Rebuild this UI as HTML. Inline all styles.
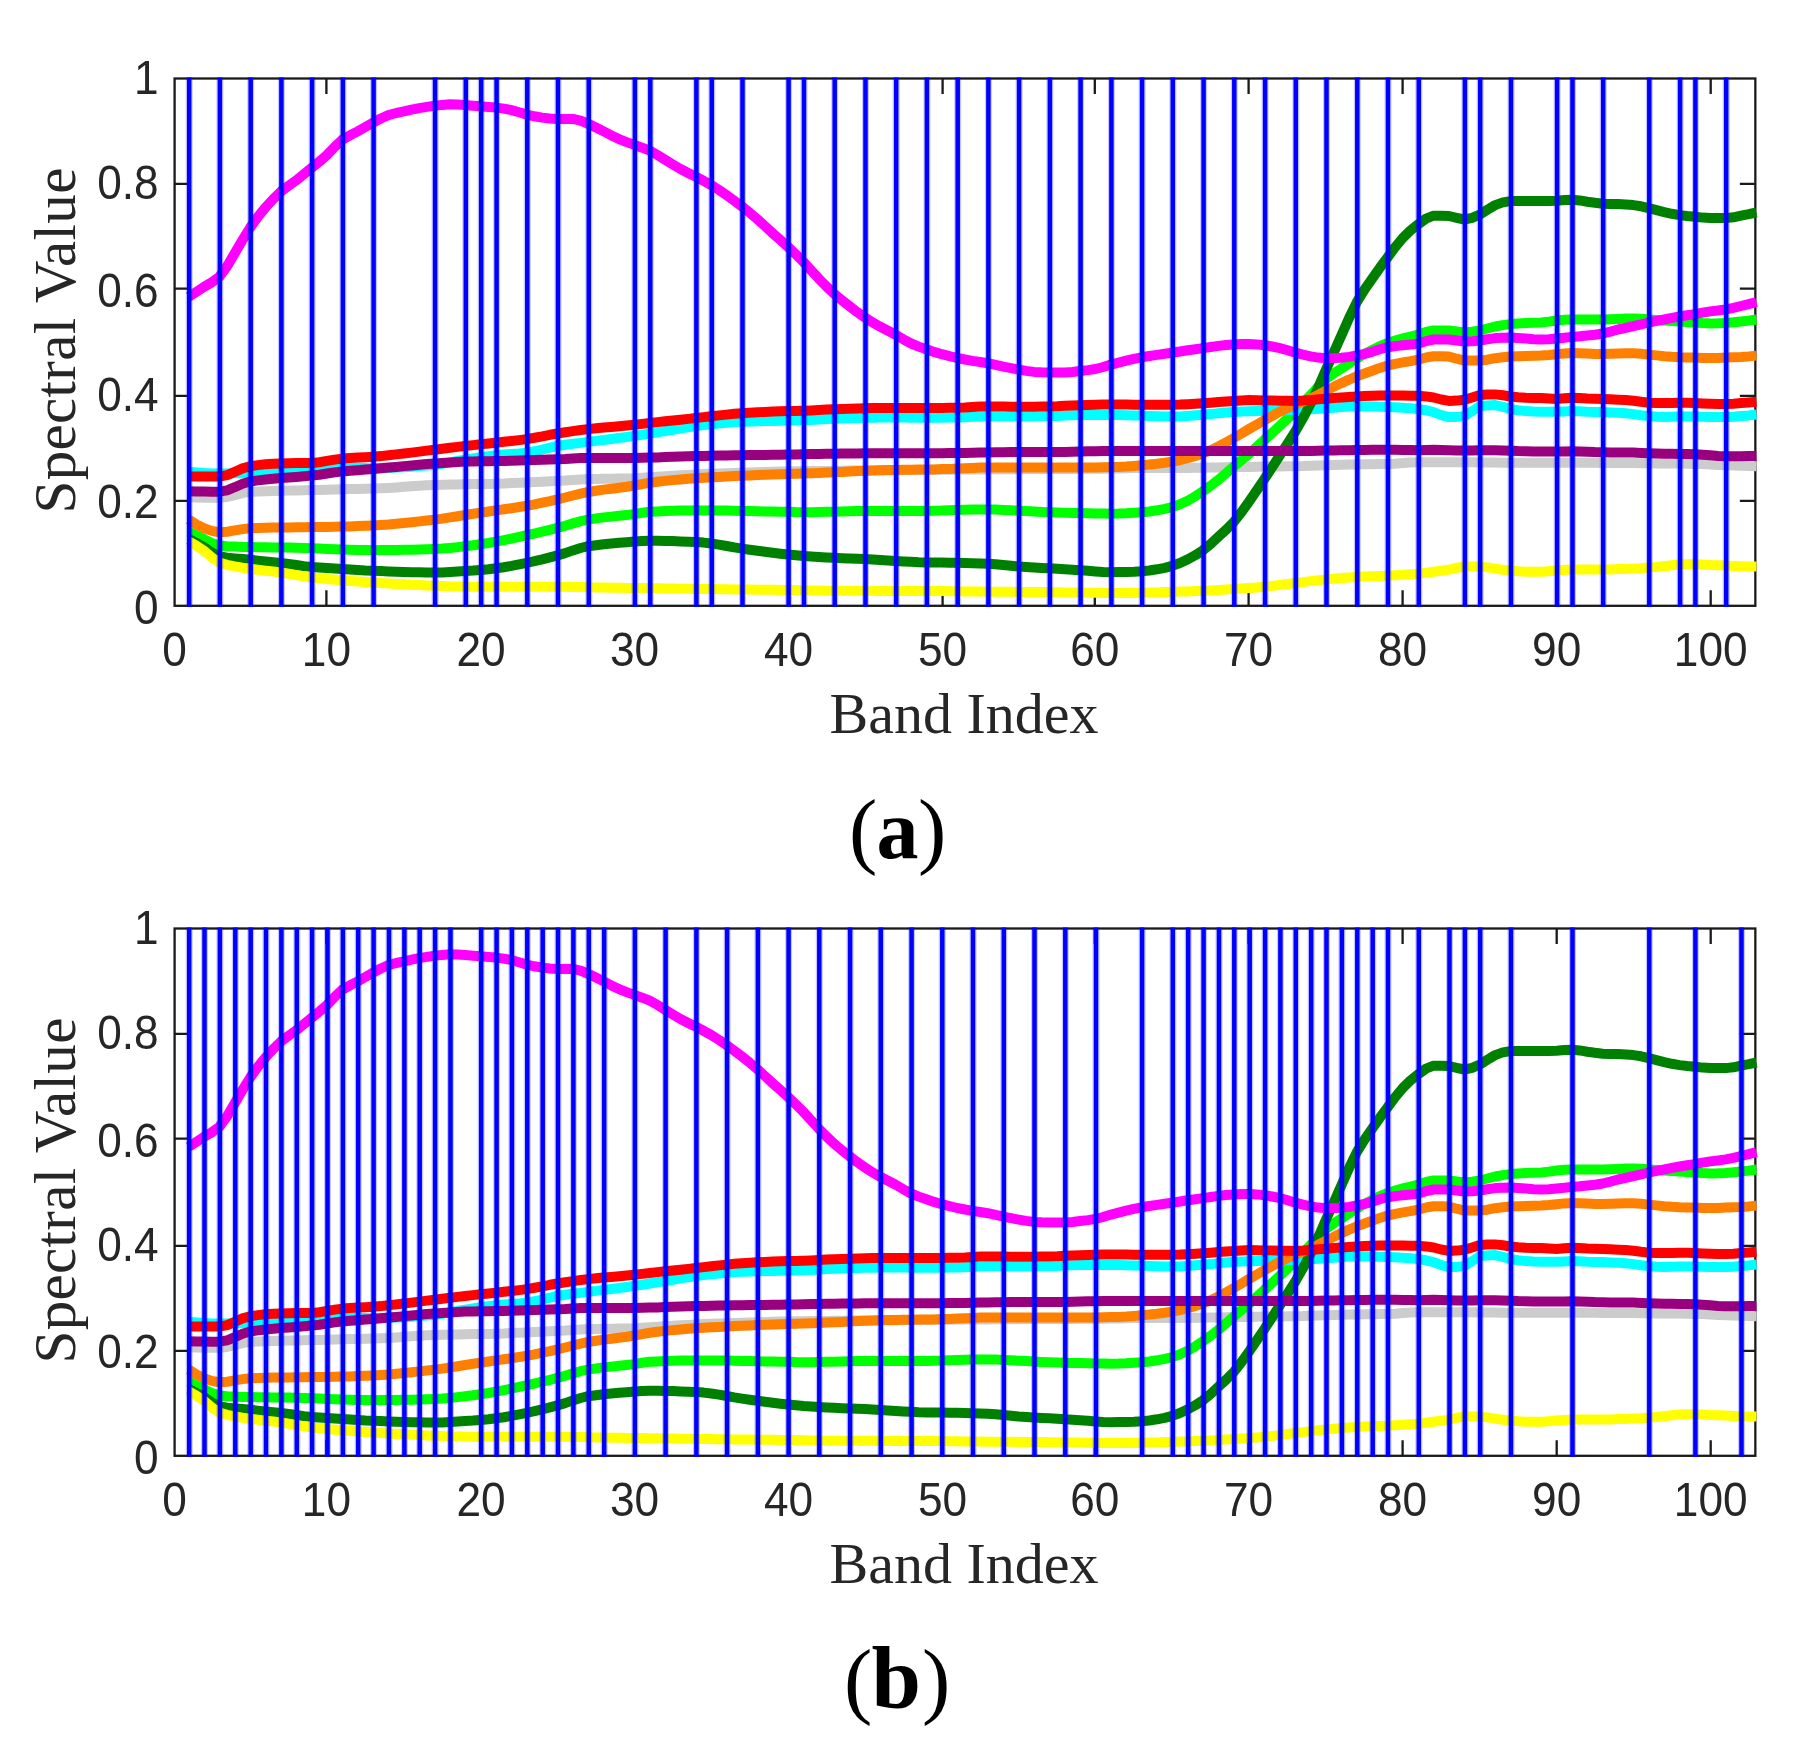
<!DOCTYPE html>
<html><head><meta charset="utf-8"><title>Spectral curves</title>
<style>
html,body{margin:0;padding:0;background:#fff;overflow:hidden;}
svg{display:block;filter:blur(0.6px)}
.t{font-family:"Liberation Sans",sans-serif;font-size:44.2px;fill:#262626}
.s{font-family:"Liberation Serif",serif;font-size:58px;fill:#262626}
.c{font-family:"Liberation Serif",serif;fill:#000}
.cv{fill:none;stroke-width:10;stroke-linejoin:round;stroke-linecap:butt}
</style></head><body>
<svg width="1794" height="1754" viewBox="0 0 1794 1754">
<rect width="1794" height="1754" fill="#fff"/>
<g>
<rect x="174.6" y="78.5" width="1580.75" height="527.3" fill="none" stroke="#1a1a1a" stroke-width="2.3"/>
<path d="M326.4 605.8v-15.5M326.4 78.5v15.5M481.0 605.8v-15.5M481.0 78.5v15.5M634.5 605.8v-15.5M634.5 78.5v15.5M788.5 605.8v-15.5M788.5 78.5v15.5M942.6 605.8v-15.5M942.6 78.5v15.5M1094.8 605.8v-15.5M1094.8 78.5v15.5M1248.6 605.8v-15.5M1248.6 78.5v15.5M1402.6 605.8v-15.5M1402.6 78.5v15.5M1556.7 605.8v-15.5M1556.7 78.5v15.5M1710.7 605.8v-15.5M1710.7 78.5v15.5M174.6 500.8h15.5M1755.35 500.8h-15.5M174.6 395.9h15.5M1755.35 395.9h-15.5M174.6 288.7h15.5M1755.35 288.7h-15.5M174.6 183.9h15.5M1755.35 183.9h-15.5" stroke="#1a1a1a" stroke-width="2.3" fill="none"/>
<path class="cv" stroke="#cccccc" d="M188.7 497.2 L196.4 497.6 L204.0 497.7 L211.7 497.8 L219.4 497.8 L227.1 497.0 L234.8 495.1 L242.5 493.1 L250.2 491.9 L257.8 491.5 L265.5 491.2 L273.2 490.9 L280.9 490.7 L288.6 490.5 L296.3 490.4 L303.9 490.2 L311.6 490.1 L319.3 489.9 L327.0 489.7 L334.7 489.4 L342.4 489.2 L350.1 489.1 L357.7 488.9 L365.4 488.8 L373.1 488.6 L380.8 488.3 L388.5 487.9 L396.2 487.4 L403.9 486.8 L411.5 486.3 L419.2 485.8 L426.9 485.3 L434.6 485.0 L442.3 484.8 L450.0 484.6 L457.6 484.4 L465.3 484.3 L473.0 484.1 L480.7 484.0 L488.4 483.9 L496.1 483.7 L503.8 483.5 L511.4 483.1 L519.1 482.8 L526.8 482.4 L534.5 482.1 L542.2 481.7 L549.9 481.3 L557.5 480.9 L565.2 480.5 L572.9 479.9 L580.6 479.4 L588.3 479.1 L596.0 478.9 L603.7 478.8 L611.3 478.7 L619.0 478.5 L626.7 478.4 L634.4 478.2 L642.1 477.8 L649.8 477.3 L657.5 476.8 L665.1 476.3 L672.8 475.8 L680.5 475.3 L688.2 474.9 L695.9 474.5 L703.6 474.1 L711.2 473.8 L718.9 473.5 L726.6 473.2 L734.3 472.9 L742.0 472.7 L749.7 472.4 L757.4 472.2 L765.0 472.0 L772.7 471.8 L780.4 471.6 L788.1 471.5 L795.8 471.3 L803.5 471.2 L811.2 471.1 L818.8 471.0 L826.5 470.9 L834.2 470.8 L841.9 470.7 L849.6 470.6 L857.3 470.5 L865.0 470.5 L872.6 470.4 L880.3 470.3 L888.0 470.2 L895.7 470.2 L903.4 470.1 L911.1 470.0 L918.7 470.0 L926.4 469.9 L934.1 469.8 L941.8 469.8 L949.5 469.7 L957.2 469.6 L964.9 469.5 L972.5 469.5 L980.2 469.4 L987.9 469.4 L995.6 469.3 L1003.3 469.3 L1011.0 469.2 L1018.6 469.2 L1026.3 469.1 L1034.0 469.1 L1041.7 469.0 L1049.4 469.0 L1057.1 468.9 L1064.8 468.9 L1072.4 468.9 L1080.1 468.8 L1087.8 468.8 L1095.5 468.7 L1103.2 468.7 L1110.9 468.6 L1118.6 468.5 L1126.2 468.3 L1133.9 468.1 L1141.6 468.1 L1149.3 468.1 L1157.0 468.1 L1164.7 468.1 L1172.3 468.1 L1180.0 468.0 L1187.7 467.9 L1195.4 467.8 L1203.1 467.7 L1210.8 467.6 L1218.5 467.4 L1226.1 467.3 L1233.8 467.1 L1241.5 467.0 L1249.2 466.9 L1256.9 466.7 L1264.6 466.6 L1272.3 466.5 L1279.9 466.4 L1287.6 466.3 L1295.3 466.2 L1303.0 466.1 L1310.7 465.8 L1318.4 465.6 L1326.0 465.3 L1333.7 465.1 L1341.4 464.8 L1349.1 464.6 L1356.8 464.4 L1364.5 464.3 L1372.2 464.2 L1379.8 464.1 L1387.5 464.0 L1395.2 463.7 L1402.9 463.1 L1410.6 462.5 L1418.3 462.3 L1426.0 462.3 L1433.6 462.3 L1441.3 462.3 L1449.0 462.3 L1456.7 462.3 L1464.4 462.3 L1472.1 462.3 L1479.8 462.4 L1487.4 462.5 L1495.1 462.6 L1502.8 462.7 L1510.5 462.7 L1518.2 462.7 L1525.9 462.7 L1533.5 462.7 L1541.2 462.7 L1548.9 462.7 L1556.6 462.7 L1564.3 462.7 L1572.0 462.7 L1579.7 462.7 L1587.3 462.8 L1595.0 462.8 L1602.7 462.9 L1610.4 462.9 L1618.1 463.0 L1625.8 463.1 L1633.4 463.1 L1641.1 463.2 L1648.8 463.3 L1656.5 463.4 L1664.2 463.4 L1671.9 463.5 L1679.6 463.6 L1687.2 463.7 L1694.9 463.9 L1702.6 464.1 L1710.3 464.5 L1718.0 464.9 L1725.7 465.3 L1733.4 465.6 L1741.0 465.8 L1748.7 466.1 L1756.4 466.3"/>
<path class="cv" stroke="#00ff00" d="M188.7 531.8 L196.4 535.5 L204.0 539.1 L211.7 543.0 L219.4 545.6 L227.1 546.2 L234.8 546.6 L242.5 546.9 L250.2 547.1 L257.8 547.2 L265.5 547.3 L273.2 547.4 L280.9 547.5 L288.6 547.6 L296.3 547.8 L303.9 548.1 L311.6 548.3 L319.3 548.6 L327.0 549.0 L334.7 549.3 L342.4 549.6 L350.1 549.8 L357.7 550.0 L365.4 550.1 L373.1 550.2 L380.8 550.1 L388.5 550.1 L396.2 550.0 L403.9 549.8 L411.5 549.7 L419.2 549.5 L426.9 549.3 L434.6 549.0 L442.3 548.6 L450.0 547.9 L457.6 547.1 L465.3 546.2 L473.0 545.3 L480.7 544.2 L488.4 543.0 L496.1 541.6 L503.8 540.2 L511.4 538.6 L519.1 536.9 L526.8 535.2 L534.5 533.5 L542.2 531.6 L549.9 529.8 L557.5 527.9 L565.2 525.7 L572.9 523.4 L580.6 521.2 L588.3 519.6 L596.0 518.4 L603.7 517.4 L611.3 516.6 L619.0 515.8 L626.7 515.0 L634.4 514.1 L642.1 512.8 L649.8 511.8 L657.5 511.4 L665.1 511.1 L672.8 510.8 L680.5 510.6 L688.2 510.4 L695.9 510.4 L703.6 510.4 L711.2 510.4 L718.9 510.4 L726.6 510.6 L734.3 510.8 L742.0 510.9 L749.7 511.1 L757.4 511.2 L765.0 511.4 L772.7 511.5 L780.4 511.7 L788.1 511.8 L795.8 512.1 L803.5 512.2 L811.2 512.2 L818.8 512.0 L826.5 511.8 L834.2 511.7 L841.9 511.5 L849.6 511.2 L857.3 511.0 L865.0 510.9 L872.6 510.9 L880.3 510.9 L888.0 510.9 L895.7 510.9 L903.4 510.9 L911.1 510.9 L918.7 510.9 L926.4 510.9 L934.1 510.8 L941.8 510.6 L949.5 510.2 L957.2 510.0 L964.9 509.8 L972.5 509.6 L980.2 509.5 L987.9 509.5 L995.6 509.6 L1003.3 509.9 L1011.0 510.3 L1018.6 510.7 L1026.3 511.1 L1034.0 511.5 L1041.7 511.9 L1049.4 512.2 L1057.1 512.5 L1064.8 512.7 L1072.4 512.9 L1080.1 513.1 L1087.8 513.3 L1095.5 513.5 L1103.2 513.6 L1110.9 513.7 L1118.6 513.6 L1126.2 513.3 L1133.9 512.8 L1141.6 512.3 L1149.3 511.5 L1157.0 510.3 L1164.7 508.9 L1172.3 507.1 L1180.0 504.3 L1187.7 500.7 L1195.4 496.2 L1203.1 491.1 L1210.8 485.6 L1218.5 479.7 L1226.1 473.2 L1233.8 466.5 L1241.5 460.1 L1249.2 453.7 L1256.9 446.8 L1264.6 439.7 L1272.3 432.7 L1279.9 425.7 L1287.6 418.5 L1295.3 411.0 L1303.0 403.1 L1310.7 395.0 L1318.4 386.5 L1326.0 378.8 L1333.7 373.4 L1341.4 368.5 L1349.1 363.3 L1356.8 358.4 L1364.5 354.0 L1372.2 350.0 L1379.8 346.2 L1387.5 343.0 L1395.2 340.5 L1402.9 338.4 L1410.6 336.5 L1418.3 334.5 L1426.0 332.0 L1433.6 330.5 L1441.3 330.5 L1449.0 330.5 L1456.7 331.5 L1464.4 332.5 L1472.1 331.8 L1479.8 330.5 L1487.4 328.5 L1495.1 326.5 L1502.8 325.1 L1510.5 324.1 L1518.2 323.4 L1525.9 322.9 L1533.5 322.7 L1541.2 322.5 L1548.9 321.6 L1556.6 320.5 L1564.3 319.8 L1572.0 319.5 L1579.7 319.5 L1587.3 319.5 L1595.0 319.5 L1602.7 319.5 L1610.4 319.2 L1618.1 318.9 L1625.8 318.6 L1633.4 318.5 L1641.1 318.8 L1648.8 319.5 L1656.5 320.0 L1664.2 320.5 L1671.9 321.0 L1679.6 321.5 L1687.2 322.0 L1694.9 322.5 L1702.6 323.1 L1710.3 323.5 L1718.0 323.3 L1725.7 322.9 L1733.4 322.3 L1741.0 321.5 L1748.7 320.6 L1756.4 319.5"/>
<path class="cv" stroke="#00ffff" d="M188.7 471.7 L196.4 472.4 L204.0 473.0 L211.7 473.4 L219.4 473.5 L227.1 473.5 L234.8 473.3 L242.5 473.2 L250.2 472.9 L257.8 472.5 L265.5 471.8 L273.2 471.0 L280.9 470.5 L288.6 470.1 L296.3 469.9 L303.9 469.6 L311.6 469.2 L319.3 468.6 L327.0 467.8 L334.7 467.1 L342.4 466.8 L350.1 467.0 L357.7 467.5 L365.4 468.0 L373.1 468.3 L380.8 468.2 L388.5 468.0 L396.2 467.6 L403.9 467.2 L411.5 466.7 L419.2 466.1 L426.9 465.4 L434.6 464.8 L442.3 463.8 L450.0 462.4 L457.6 460.9 L465.3 459.6 L473.0 458.4 L480.7 457.2 L488.4 456.1 L496.1 455.2 L503.8 454.5 L511.4 454.0 L519.1 453.4 L526.8 452.6 L534.5 451.3 L542.2 449.5 L549.9 447.6 L557.5 446.0 L565.2 444.8 L572.9 443.8 L580.6 442.9 L588.3 441.9 L596.0 440.9 L603.7 440.0 L611.3 439.0 L619.0 438.0 L626.7 437.0 L634.4 435.9 L642.1 434.7 L649.8 433.5 L657.5 432.2 L665.1 431.0 L672.8 429.7 L680.5 428.4 L688.2 427.2 L695.9 426.1 L703.6 425.1 L711.2 424.3 L718.9 423.5 L726.6 422.8 L734.3 422.1 L742.0 421.7 L749.7 421.4 L757.4 421.2 L765.0 421.1 L772.7 420.9 L780.4 420.8 L788.1 420.6 L795.8 420.4 L803.5 420.2 L811.2 419.9 L818.8 419.5 L826.5 419.1 L834.2 418.8 L841.9 418.5 L849.6 418.2 L857.3 418.0 L865.0 417.8 L872.6 417.7 L880.3 417.6 L888.0 417.5 L895.7 417.5 L903.4 417.5 L911.1 417.7 L918.7 417.8 L926.4 417.8 L934.1 417.8 L941.8 417.7 L949.5 417.6 L957.2 417.5 L964.9 417.2 L972.5 416.8 L980.2 416.4 L987.9 416.2 L995.6 416.2 L1003.3 416.4 L1011.0 416.5 L1018.6 416.6 L1026.3 416.5 L1034.0 416.4 L1041.7 416.3 L1049.4 416.2 L1057.1 416.0 L1064.8 415.6 L1072.4 415.3 L1080.1 415.1 L1087.8 415.0 L1095.5 415.0 L1103.2 414.9 L1110.9 414.9 L1118.6 415.0 L1126.2 415.2 L1133.9 415.4 L1141.6 415.6 L1149.3 415.9 L1157.0 416.2 L1164.7 416.5 L1172.3 416.6 L1180.0 416.4 L1187.7 415.9 L1195.4 415.3 L1203.1 414.7 L1210.8 414.1 L1218.5 413.3 L1226.1 412.5 L1233.8 412.0 L1241.5 411.5 L1249.2 411.2 L1256.9 410.9 L1264.6 410.7 L1272.3 410.5 L1279.9 410.4 L1287.6 410.3 L1295.3 410.1 L1303.0 409.8 L1310.7 409.3 L1318.4 408.8 L1326.0 408.3 L1333.7 407.7 L1341.4 407.1 L1349.1 406.6 L1356.8 406.4 L1364.5 406.5 L1372.2 406.6 L1379.8 406.8 L1387.5 407.0 L1395.2 407.3 L1402.9 407.7 L1410.6 408.3 L1418.3 409.1 L1426.0 410.3 L1433.6 412.1 L1441.3 415.1 L1449.0 417.1 L1456.7 416.9 L1464.4 416.1 L1472.1 411.1 L1479.8 406.1 L1487.4 405.4 L1495.1 405.1 L1502.8 406.8 L1510.5 409.1 L1518.2 410.3 L1525.9 411.1 L1533.5 411.5 L1541.2 411.7 L1548.9 411.7 L1556.6 411.7 L1564.3 411.4 L1572.0 411.1 L1579.7 411.3 L1587.3 411.7 L1595.0 411.9 L1602.7 412.1 L1610.4 412.4 L1618.1 412.7 L1625.8 413.3 L1633.4 414.1 L1641.1 415.2 L1648.8 416.1 L1656.5 416.8 L1664.2 417.1 L1671.9 416.8 L1679.6 416.5 L1687.2 416.5 L1694.9 416.5 L1702.6 416.8 L1710.3 417.1 L1718.0 417.1 L1725.7 417.1 L1733.4 416.8 L1741.0 416.1 L1748.7 415.4 L1756.4 414.5"/>
<path class="cv" stroke="#008000" d="M188.7 539.0 L196.4 542.9 L204.0 547.1 L211.7 552.4 L219.4 556.3 L227.1 557.6 L234.8 558.4 L242.5 559.1 L250.2 559.8 L257.8 560.6 L265.5 561.4 L273.2 562.2 L280.9 563.0 L288.6 564.0 L296.3 565.0 L303.9 566.1 L311.6 566.9 L319.3 567.5 L327.0 568.1 L334.7 568.6 L342.4 569.1 L350.1 569.6 L357.7 570.0 L365.4 570.5 L373.1 570.8 L380.8 571.1 L388.5 571.4 L396.2 571.7 L403.9 571.9 L411.5 572.2 L419.2 572.3 L426.9 572.5 L434.6 572.5 L442.3 572.4 L450.0 572.0 L457.6 571.6 L465.3 571.1 L473.0 570.6 L480.7 569.9 L488.4 569.2 L496.1 568.3 L503.8 567.2 L511.4 565.9 L519.1 564.4 L526.8 562.8 L534.5 561.2 L542.2 559.4 L549.9 557.4 L557.5 555.4 L565.2 553.1 L572.9 550.4 L580.6 548.0 L588.3 546.2 L596.0 545.2 L603.7 544.2 L611.3 543.5 L619.0 542.8 L626.7 542.2 L634.4 541.6 L642.1 541.1 L649.8 540.7 L657.5 540.8 L665.1 540.9 L672.8 541.1 L680.5 541.4 L688.2 541.7 L695.9 542.0 L703.6 542.6 L711.2 543.5 L718.9 544.6 L726.6 546.0 L734.3 547.4 L742.0 548.6 L749.7 549.7 L757.4 550.8 L765.0 551.8 L772.7 552.8 L780.4 553.7 L788.1 554.5 L795.8 555.3 L803.5 556.0 L811.2 556.5 L818.8 557.0 L826.5 557.4 L834.2 557.8 L841.9 558.2 L849.6 558.5 L857.3 558.8 L865.0 559.1 L872.6 559.5 L880.3 560.0 L888.0 560.5 L895.7 561.0 L903.4 561.4 L911.1 561.8 L918.7 562.2 L926.4 562.4 L934.1 562.6 L941.8 562.6 L949.5 562.7 L957.2 562.8 L964.9 563.0 L972.5 563.2 L980.2 563.4 L987.9 563.7 L995.6 564.2 L1003.3 565.0 L1011.0 565.8 L1018.6 566.5 L1026.3 567.0 L1034.0 567.4 L1041.7 567.9 L1049.4 568.3 L1057.1 568.8 L1064.8 569.2 L1072.4 569.7 L1080.1 570.2 L1087.8 570.7 L1095.5 571.4 L1103.2 572.0 L1110.9 572.2 L1118.6 572.1 L1126.2 571.9 L1133.9 571.7 L1141.6 571.3 L1149.3 570.5 L1157.0 569.3 L1164.7 567.8 L1172.3 565.8 L1180.0 563.0 L1187.7 559.4 L1195.4 555.2 L1203.1 550.2 L1210.8 543.8 L1218.5 536.6 L1226.1 529.7 L1233.8 522.0 L1241.5 512.2 L1249.2 501.3 L1256.9 490.2 L1264.6 478.8 L1272.3 467.1 L1279.9 455.2 L1287.6 443.6 L1295.3 431.5 L1303.0 418.1 L1310.7 403.5 L1318.4 387.0 L1326.0 369.6 L1333.7 352.5 L1341.4 335.4 L1349.1 318.0 L1356.8 302.1 L1364.5 289.7 L1372.2 278.6 L1379.8 267.8 L1387.5 257.4 L1395.2 247.1 L1402.9 237.9 L1410.6 230.3 L1418.3 224.2 L1426.0 218.6 L1433.6 215.7 L1441.3 215.8 L1449.0 216.0 L1456.7 217.8 L1464.4 219.5 L1472.1 217.8 L1479.8 214.5 L1487.4 209.7 L1495.1 205.1 L1502.8 202.4 L1510.5 201.1 L1518.2 201.1 L1525.9 201.1 L1533.5 201.1 L1541.2 201.1 L1548.9 200.9 L1556.6 200.7 L1564.3 200.1 L1572.0 199.7 L1579.7 200.4 L1587.3 201.7 L1595.0 202.8 L1602.7 203.7 L1610.4 203.9 L1618.1 204.1 L1625.8 204.5 L1633.4 205.1 L1641.1 206.3 L1648.8 208.1 L1656.5 210.1 L1664.2 212.1 L1671.9 213.8 L1679.6 215.1 L1687.2 216.0 L1694.9 216.7 L1702.6 217.6 L1710.3 218.1 L1718.0 218.1 L1725.7 218.1 L1733.4 217.3 L1741.0 215.7 L1748.7 214.2 L1756.4 212.5"/>
<path class="cv" stroke="#ff00ff" d="M188.7 296.9 L196.4 291.9 L204.0 286.9 L211.7 282.4 L219.4 276.8 L227.1 266.2 L234.8 253.1 L242.5 240.0 L250.2 227.5 L257.8 216.9 L265.5 207.5 L273.2 199.0 L280.9 191.6 L288.6 185.8 L296.3 180.3 L303.9 174.2 L311.6 167.8 L319.3 161.6 L327.0 155.0 L334.7 146.9 L342.4 139.7 L350.1 135.3 L357.7 131.4 L365.4 127.0 L373.1 122.6 L380.8 118.5 L388.5 115.1 L396.2 113.0 L403.9 111.4 L411.5 109.6 L419.2 108.1 L426.9 106.9 L434.6 105.8 L442.3 104.9 L450.0 104.3 L457.6 104.6 L465.3 105.1 L473.0 105.7 L480.7 106.3 L488.4 106.9 L496.1 107.6 L503.8 108.6 L511.4 110.1 L519.1 112.3 L526.8 114.6 L534.5 116.3 L542.2 117.6 L549.9 118.5 L557.5 118.9 L565.2 118.9 L572.9 118.9 L580.6 120.6 L588.3 123.9 L596.0 127.5 L603.7 131.4 L611.3 135.4 L619.0 139.1 L626.7 142.1 L634.4 144.9 L642.1 147.7 L649.8 150.7 L657.5 155.0 L665.1 159.8 L672.8 164.5 L680.5 169.0 L688.2 173.0 L695.9 176.8 L703.6 180.8 L711.2 185.0 L718.9 189.9 L726.6 195.2 L734.3 200.7 L742.0 206.5 L749.7 212.7 L757.4 219.2 L765.0 226.1 L772.7 233.2 L780.4 240.0 L788.1 247.0 L795.8 254.3 L803.5 262.0 L811.2 270.3 L818.8 278.7 L826.5 286.5 L834.2 293.8 L841.9 300.3 L849.6 306.3 L857.3 312.2 L865.0 317.6 L872.6 322.4 L880.3 326.8 L888.0 330.8 L895.7 334.8 L903.4 339.3 L911.1 343.5 L918.7 346.6 L926.4 349.3 L934.1 351.9 L941.8 354.2 L949.5 356.2 L957.2 358.0 L964.9 359.5 L972.5 360.9 L980.2 362.0 L987.9 363.2 L995.6 364.9 L1003.3 366.7 L1011.0 368.2 L1018.6 369.6 L1026.3 370.9 L1034.0 371.9 L1041.7 372.3 L1049.4 372.5 L1057.1 372.5 L1064.8 372.5 L1072.4 372.0 L1080.1 371.0 L1087.8 370.1 L1095.5 369.0 L1103.2 367.0 L1110.9 364.6 L1118.6 362.6 L1126.2 360.7 L1133.9 358.9 L1141.6 357.3 L1149.3 356.0 L1157.0 354.9 L1164.7 353.8 L1172.3 352.7 L1180.0 351.5 L1187.7 350.3 L1195.4 349.2 L1203.1 348.1 L1210.8 347.0 L1218.5 345.9 L1226.1 345.0 L1233.8 344.4 L1241.5 344.0 L1249.2 343.9 L1256.9 344.4 L1264.6 345.3 L1272.3 346.5 L1279.9 348.1 L1287.6 350.3 L1295.3 352.7 L1303.0 354.7 L1310.7 356.4 L1318.4 357.6 L1326.0 358.2 L1333.7 358.1 L1341.4 357.8 L1349.1 356.9 L1356.8 355.4 L1364.5 353.8 L1372.2 351.8 L1379.8 349.3 L1387.5 347.2 L1395.2 346.1 L1402.9 345.3 L1410.6 344.6 L1418.3 343.6 L1426.0 341.2 L1433.6 339.5 L1441.3 339.5 L1449.0 339.5 L1456.7 340.5 L1464.4 341.5 L1472.1 341.2 L1479.8 340.5 L1487.4 339.3 L1495.1 338.1 L1502.8 337.7 L1510.5 337.5 L1518.2 337.9 L1525.9 338.5 L1533.5 339.2 L1541.2 339.5 L1548.9 339.2 L1556.6 338.5 L1564.3 337.8 L1572.0 336.9 L1579.7 336.3 L1587.3 335.5 L1595.0 334.7 L1602.7 333.5 L1610.4 331.6 L1618.1 329.5 L1625.8 327.8 L1633.4 326.1 L1641.1 324.3 L1648.8 322.5 L1656.5 320.9 L1664.2 319.5 L1671.9 317.9 L1679.6 316.5 L1687.2 315.2 L1694.9 314.1 L1702.6 312.7 L1710.3 311.4 L1718.0 310.5 L1725.7 309.4 L1733.4 307.9 L1741.0 306.0 L1748.7 304.1 L1756.4 302.0"/>
<path class="cv" stroke="#ff8000" d="M188.7 519.5 L196.4 524.5 L204.0 528.2 L211.7 530.9 L219.4 532.2 L227.1 531.7 L234.8 530.4 L242.5 529.1 L250.2 528.3 L257.8 528.0 L265.5 527.8 L273.2 527.6 L280.9 527.5 L288.6 527.4 L296.3 527.3 L303.9 527.2 L311.6 527.1 L319.3 527.0 L327.0 526.9 L334.7 526.8 L342.4 526.6 L350.1 526.4 L357.7 526.1 L365.4 525.8 L373.1 525.4 L380.8 524.9 L388.5 524.4 L396.2 523.7 L403.9 523.0 L411.5 522.2 L419.2 521.4 L426.9 520.5 L434.6 519.6 L442.3 518.6 L450.0 517.4 L457.6 516.2 L465.3 515.0 L473.0 513.8 L480.7 512.7 L488.4 511.5 L496.1 510.4 L503.8 509.3 L511.4 508.2 L519.1 507.0 L526.8 505.8 L534.5 504.3 L542.2 502.7 L549.9 501.1 L557.5 499.3 L565.2 497.5 L572.9 495.5 L580.6 493.6 L588.3 492.0 L596.0 490.7 L603.7 489.6 L611.3 488.7 L619.0 487.7 L626.7 486.7 L634.4 485.5 L642.1 484.1 L649.8 482.8 L657.5 481.8 L665.1 480.9 L672.8 480.1 L680.5 479.4 L688.2 478.8 L695.9 478.2 L703.6 477.7 L711.2 477.3 L718.9 476.9 L726.6 476.5 L734.3 476.1 L742.0 475.8 L749.7 475.5 L757.4 475.1 L765.0 474.8 L772.7 474.5 L780.4 474.2 L788.1 474.0 L795.8 473.8 L803.5 473.6 L811.2 473.3 L818.8 473.0 L826.5 472.6 L834.2 472.3 L841.9 471.9 L849.6 471.5 L857.3 471.1 L865.0 470.8 L872.6 470.5 L880.3 470.3 L888.0 470.1 L895.7 469.9 L903.4 469.8 L911.1 469.7 L918.7 469.6 L926.4 469.5 L934.1 469.4 L941.8 469.1 L949.5 468.9 L957.2 468.6 L964.9 468.3 L972.5 467.9 L980.2 467.6 L987.9 467.5 L995.6 467.5 L1003.3 467.5 L1011.0 467.5 L1018.6 467.5 L1026.3 467.5 L1034.0 467.5 L1041.7 467.5 L1049.4 467.5 L1057.1 467.5 L1064.8 467.5 L1072.4 467.5 L1080.1 467.5 L1087.8 467.5 L1095.5 467.4 L1103.2 467.3 L1110.9 467.1 L1118.6 466.9 L1126.2 466.5 L1133.9 465.9 L1141.6 465.3 L1149.3 464.6 L1157.0 463.8 L1164.7 462.8 L1172.3 461.6 L1180.0 460.1 L1187.7 458.2 L1195.4 455.9 L1203.1 453.3 L1210.8 450.2 L1218.5 446.4 L1226.1 442.3 L1233.8 438.0 L1241.5 433.5 L1249.2 428.9 L1256.9 424.5 L1264.6 420.1 L1272.3 415.8 L1279.9 411.7 L1287.6 408.0 L1295.3 404.5 L1303.0 401.5 L1310.7 398.4 L1318.4 394.7 L1326.0 390.8 L1333.7 386.9 L1341.4 383.1 L1349.1 379.6 L1356.8 376.4 L1364.5 373.5 L1372.2 370.7 L1379.8 367.9 L1387.5 365.5 L1395.2 363.8 L1402.9 362.4 L1410.6 361.1 L1418.3 359.6 L1426.0 357.5 L1433.6 356.2 L1441.3 356.3 L1449.0 356.6 L1456.7 358.7 L1464.4 360.6 L1472.1 360.6 L1479.8 360.6 L1487.4 359.7 L1495.1 358.2 L1502.8 357.3 L1510.5 356.6 L1518.2 356.3 L1525.9 356.0 L1533.5 355.8 L1541.2 355.6 L1548.9 355.0 L1556.6 354.2 L1564.3 353.4 L1572.0 353.0 L1579.7 353.2 L1587.3 353.6 L1595.0 353.9 L1602.7 354.0 L1610.4 353.8 L1618.1 353.6 L1625.8 353.3 L1633.4 353.2 L1641.1 353.7 L1648.8 354.6 L1656.5 355.4 L1664.2 356.2 L1671.9 356.8 L1679.6 357.2 L1687.2 357.4 L1694.9 357.6 L1702.6 357.9 L1710.3 358.0 L1718.0 357.9 L1725.7 357.6 L1733.4 357.3 L1741.0 357.0 L1748.7 356.4 L1756.4 355.6"/>
<path class="cv" stroke="#990080" d="M188.7 491.3 L196.4 491.5 L204.0 491.6 L211.7 491.7 L219.4 491.7 L227.1 490.3 L234.8 487.2 L242.5 483.8 L250.2 481.5 L257.8 480.4 L265.5 479.5 L273.2 478.8 L280.9 478.1 L288.6 477.4 L296.3 476.9 L303.9 476.3 L311.6 475.6 L319.3 474.7 L327.0 473.5 L334.7 472.4 L342.4 471.4 L350.1 470.8 L357.7 470.2 L365.4 469.6 L373.1 469.0 L380.8 468.3 L388.5 467.6 L396.2 466.9 L403.9 466.1 L411.5 465.4 L419.2 464.7 L426.9 464.0 L434.6 463.5 L442.3 462.9 L450.0 462.4 L457.6 461.9 L465.3 461.6 L473.0 461.5 L480.7 461.3 L488.4 461.2 L496.1 461.1 L503.8 460.9 L511.4 460.7 L519.1 460.5 L526.8 460.3 L534.5 460.1 L542.2 459.8 L549.9 459.5 L557.5 459.2 L565.2 458.9 L572.9 458.4 L580.6 458.1 L588.3 457.9 L596.0 457.9 L603.7 457.9 L611.3 457.9 L619.0 457.9 L626.7 457.9 L634.4 457.9 L642.1 457.8 L649.8 457.6 L657.5 457.4 L665.1 457.1 L672.8 456.8 L680.5 456.6 L688.2 456.3 L695.9 456.1 L703.6 455.9 L711.2 455.7 L718.9 455.6 L726.6 455.4 L734.3 455.3 L742.0 455.2 L749.7 455.1 L757.4 455.0 L765.0 454.9 L772.7 454.8 L780.4 454.8 L788.1 454.6 L795.8 454.5 L803.5 454.3 L811.2 454.1 L818.8 454.0 L826.5 453.8 L834.2 453.7 L841.9 453.6 L849.6 453.5 L857.3 453.4 L865.0 453.3 L872.6 453.3 L880.3 453.3 L888.0 453.3 L895.7 453.3 L903.4 453.3 L911.1 453.3 L918.7 453.3 L926.4 453.3 L934.1 453.3 L941.8 453.2 L949.5 453.1 L957.2 453.0 L964.9 452.9 L972.5 452.7 L980.2 452.6 L987.9 452.4 L995.6 452.3 L1003.3 452.2 L1011.0 452.1 L1018.6 452.1 L1026.3 452.1 L1034.0 452.1 L1041.7 452.1 L1049.4 452.1 L1057.1 452.0 L1064.8 451.9 L1072.4 451.7 L1080.1 451.5 L1087.8 451.3 L1095.5 451.2 L1103.2 451.0 L1110.9 451.0 L1118.6 451.0 L1126.2 451.0 L1133.9 451.0 L1141.6 451.0 L1149.3 451.0 L1157.0 451.0 L1164.7 451.0 L1172.3 451.0 L1180.0 451.0 L1187.7 451.0 L1195.4 451.1 L1203.1 451.1 L1210.8 451.1 L1218.5 451.1 L1226.1 451.1 L1233.8 451.1 L1241.5 451.1 L1249.2 451.1 L1256.9 451.1 L1264.6 451.1 L1272.3 451.1 L1279.9 451.1 L1287.6 451.1 L1295.3 451.1 L1303.0 451.1 L1310.7 450.9 L1318.4 450.8 L1326.0 450.6 L1333.7 450.4 L1341.4 450.3 L1349.1 450.2 L1356.8 450.0 L1364.5 449.9 L1372.2 449.8 L1379.8 449.7 L1387.5 449.7 L1395.2 449.8 L1402.9 450.0 L1410.6 450.1 L1418.3 450.2 L1426.0 450.0 L1433.6 449.8 L1441.3 450.0 L1449.0 450.2 L1456.7 450.5 L1464.4 450.6 L1472.1 450.4 L1479.8 450.2 L1487.4 450.2 L1495.1 450.2 L1502.8 450.5 L1510.5 450.8 L1518.2 451.1 L1525.9 451.2 L1533.5 451.5 L1541.2 451.6 L1548.9 451.6 L1556.6 451.6 L1564.3 451.4 L1572.0 451.2 L1579.7 451.5 L1587.3 451.8 L1595.0 452.1 L1602.7 452.2 L1610.4 452.5 L1618.1 452.6 L1625.8 452.6 L1633.4 452.6 L1641.1 452.9 L1648.8 453.2 L1656.5 453.5 L1664.2 453.7 L1671.9 453.8 L1679.6 453.9 L1687.2 454.0 L1694.9 454.3 L1702.6 454.7 L1710.3 455.3 L1718.0 455.9 L1725.7 456.3 L1733.4 456.3 L1741.0 456.3 L1748.7 456.1 L1756.4 455.9"/>
<path class="cv" stroke="#ff0000" d="M188.7 476.6 L196.4 476.6 L204.0 476.6 L211.7 476.6 L219.4 476.6 L227.1 475.2 L234.8 471.9 L242.5 468.4 L250.2 466.2 L257.8 465.1 L265.5 464.3 L273.2 463.7 L280.9 463.4 L288.6 463.2 L296.3 463.1 L303.9 463.0 L311.6 462.9 L319.3 462.2 L327.0 460.9 L334.7 459.6 L342.4 458.6 L350.1 458.0 L357.7 457.6 L365.4 457.2 L373.1 456.7 L380.8 456.1 L388.5 455.3 L396.2 454.4 L403.9 453.5 L411.5 452.6 L419.2 451.6 L426.9 450.6 L434.6 449.7 L442.3 448.7 L450.0 447.8 L457.6 446.9 L465.3 446.0 L473.0 445.1 L480.7 444.3 L488.4 443.5 L496.1 442.7 L503.8 441.8 L511.4 441.0 L519.1 440.1 L526.8 439.1 L534.5 437.8 L542.2 436.4 L549.9 434.8 L557.5 433.5 L565.2 432.3 L572.9 431.1 L580.6 430.0 L588.3 429.1 L596.0 428.3 L603.7 427.6 L611.3 426.9 L619.0 426.3 L626.7 425.6 L634.4 424.8 L642.1 423.9 L649.8 423.0 L657.5 422.1 L665.1 421.3 L672.8 420.5 L680.5 419.7 L688.2 418.9 L695.9 418.0 L703.6 417.1 L711.2 416.2 L718.9 415.4 L726.6 414.6 L734.3 413.8 L742.0 413.2 L749.7 412.8 L757.4 412.3 L765.0 411.9 L772.7 411.6 L780.4 411.3 L788.1 411.0 L795.8 410.9 L803.5 410.7 L811.2 410.4 L818.8 410.0 L826.5 409.5 L834.2 409.2 L841.9 408.9 L849.6 408.7 L857.3 408.4 L865.0 408.3 L872.6 408.1 L880.3 408.0 L888.0 407.9 L895.7 407.9 L903.4 407.9 L911.1 407.9 L918.7 407.9 L926.4 407.9 L934.1 407.9 L941.8 407.9 L949.5 407.8 L957.2 407.7 L964.9 407.5 L972.5 407.0 L980.2 406.6 L987.9 406.4 L995.6 406.5 L1003.3 406.6 L1011.0 406.7 L1018.6 406.8 L1026.3 406.8 L1034.0 406.7 L1041.7 406.6 L1049.4 406.4 L1057.1 406.2 L1064.8 405.8 L1072.4 405.5 L1080.1 405.2 L1087.8 404.9 L1095.5 404.7 L1103.2 404.5 L1110.9 404.4 L1118.6 404.5 L1126.2 404.6 L1133.9 404.7 L1141.6 404.7 L1149.3 404.7 L1157.0 404.7 L1164.7 404.7 L1172.3 404.7 L1180.0 404.6 L1187.7 404.2 L1195.4 403.8 L1203.1 403.3 L1210.8 402.7 L1218.5 402.1 L1226.1 401.4 L1233.8 400.9 L1241.5 400.4 L1249.2 400.1 L1256.9 400.3 L1264.6 400.5 L1272.3 400.6 L1279.9 400.8 L1287.6 400.8 L1295.3 400.9 L1303.0 400.6 L1310.7 400.1 L1318.4 399.3 L1326.0 398.7 L1333.7 398.1 L1341.4 397.5 L1349.1 396.9 L1356.8 396.5 L1364.5 396.1 L1372.2 395.8 L1379.8 395.6 L1387.5 395.5 L1395.2 395.6 L1402.9 395.6 L1410.6 395.7 L1418.3 395.8 L1426.0 396.4 L1433.6 397.5 L1441.3 399.5 L1449.0 400.9 L1456.7 400.6 L1464.4 399.8 L1472.1 397.4 L1479.8 395.1 L1487.4 394.6 L1495.1 394.4 L1502.8 395.3 L1510.5 396.5 L1518.2 397.2 L1525.9 397.7 L1533.5 397.9 L1541.2 398.1 L1548.9 398.6 L1556.6 399.0 L1564.3 398.3 L1572.0 397.7 L1579.7 398.0 L1587.3 398.5 L1595.0 398.8 L1602.7 399.1 L1610.4 399.3 L1618.1 399.7 L1625.8 400.1 L1633.4 400.7 L1641.1 401.8 L1648.8 402.7 L1656.5 403.0 L1664.2 403.1 L1671.9 402.9 L1679.6 402.7 L1687.2 402.8 L1694.9 403.1 L1702.6 403.4 L1710.3 403.7 L1718.0 403.9 L1725.7 404.1 L1733.4 403.7 L1741.0 403.1 L1748.7 402.4 L1756.4 401.7"/>
<path class="cv" stroke="#ffff00" d="M188.7 541.3 L196.4 545.7 L204.0 550.7 L211.7 557.3 L219.4 562.6 L227.1 564.8 L234.8 566.4 L242.5 567.7 L250.2 568.8 L257.8 569.8 L265.5 570.7 L273.2 571.5 L280.9 572.5 L288.6 573.7 L296.3 575.1 L303.9 576.4 L311.6 577.5 L319.3 578.3 L327.0 579.0 L334.7 579.7 L342.4 580.3 L350.1 580.9 L357.7 581.5 L365.4 582.0 L373.1 582.5 L380.8 583.0 L388.5 583.4 L396.2 583.9 L403.9 584.3 L411.5 584.8 L419.2 585.1 L426.9 585.5 L434.6 585.8 L442.3 586.1 L450.0 586.4 L457.6 586.6 L465.3 586.7 L473.0 586.7 L480.7 586.7 L488.4 586.7 L496.1 586.7 L503.8 586.7 L511.4 586.7 L519.1 586.7 L526.8 586.7 L534.5 586.7 L542.2 586.7 L549.9 586.7 L557.5 586.7 L565.2 586.8 L572.9 586.9 L580.6 587.1 L588.3 587.3 L596.0 587.4 L603.7 587.5 L611.3 587.7 L619.0 587.8 L626.7 587.9 L634.4 588.0 L642.1 588.1 L649.8 588.2 L657.5 588.3 L665.1 588.4 L672.8 588.6 L680.5 588.7 L688.2 588.8 L695.9 588.9 L703.6 589.0 L711.2 589.1 L718.9 589.2 L726.6 589.3 L734.3 589.4 L742.0 589.5 L749.7 589.6 L757.4 589.7 L765.0 589.8 L772.7 589.8 L780.4 589.9 L788.1 590.0 L795.8 590.1 L803.5 590.2 L811.2 590.4 L818.8 590.5 L826.5 590.7 L834.2 590.8 L841.9 590.8 L849.6 590.8 L857.3 590.8 L865.0 590.8 L872.6 590.8 L880.3 590.9 L888.0 590.9 L895.7 590.9 L903.4 590.9 L911.1 590.9 L918.7 590.9 L926.4 590.9 L934.1 591.0 L941.8 591.1 L949.5 591.2 L957.2 591.3 L964.9 591.4 L972.5 591.5 L980.2 591.6 L987.9 591.7 L995.6 591.7 L1003.3 591.8 L1011.0 591.8 L1018.6 591.9 L1026.3 591.9 L1034.0 592.0 L1041.7 592.1 L1049.4 592.2 L1057.1 592.3 L1064.8 592.4 L1072.4 592.5 L1080.1 592.6 L1087.8 592.7 L1095.5 592.8 L1103.2 592.9 L1110.9 593.0 L1118.6 593.0 L1126.2 592.9 L1133.9 592.9 L1141.6 592.8 L1149.3 592.6 L1157.0 592.4 L1164.7 592.1 L1172.3 591.9 L1180.0 591.6 L1187.7 591.4 L1195.4 591.1 L1203.1 590.8 L1210.8 590.4 L1218.5 590.0 L1226.1 589.6 L1233.8 589.1 L1241.5 588.6 L1249.2 588.0 L1256.9 587.4 L1264.6 586.7 L1272.3 585.9 L1279.9 585.0 L1287.6 584.0 L1295.3 583.0 L1303.0 582.1 L1310.7 581.1 L1318.4 580.2 L1326.0 579.4 L1333.7 578.7 L1341.4 578.0 L1349.1 577.4 L1356.8 577.0 L1364.5 576.6 L1372.2 576.3 L1379.8 576.0 L1387.5 575.7 L1395.2 575.3 L1402.9 574.8 L1410.6 574.3 L1418.3 573.7 L1426.0 572.7 L1433.6 571.7 L1441.3 570.7 L1449.0 569.6 L1456.7 567.8 L1464.4 566.6 L1472.1 566.6 L1479.8 566.6 L1487.4 567.4 L1495.1 568.6 L1502.8 569.7 L1510.5 570.6 L1518.2 571.3 L1525.9 571.7 L1533.5 571.7 L1541.2 571.7 L1548.9 571.3 L1556.6 570.6 L1564.3 570.0 L1572.0 569.6 L1579.7 569.6 L1587.3 569.6 L1595.0 569.6 L1602.7 569.6 L1610.4 569.4 L1618.1 569.0 L1625.8 568.9 L1633.4 568.6 L1641.1 568.2 L1648.8 567.6 L1656.5 567.0 L1664.2 566.2 L1671.9 565.3 L1679.6 564.6 L1687.2 564.3 L1694.9 564.2 L1702.6 564.5 L1710.3 565.0 L1718.0 565.3 L1725.7 565.6 L1733.4 565.9 L1741.0 566.2 L1748.7 566.5 L1756.4 566.6"/>
<path d="M189.2 77.4V606.9M219.9 77.4V606.9M250.7 77.4V606.9M281.4 77.4V606.9M312.1 77.4V606.9M342.9 77.4V606.9M373.6 77.4V606.9M435.1 77.4V606.9M465.8 77.4V606.9M481.2 77.4V606.9M496.6 77.4V606.9M527.3 77.4V606.9M558.0 77.4V606.9M588.8 77.4V606.9M634.9 77.4V606.9M650.3 77.4V606.9M696.4 77.4V606.9M711.8 77.4V606.9M742.5 77.4V606.9M788.6 77.4V606.9M804.0 77.4V606.9M834.7 77.4V606.9M865.5 77.4V606.9M896.2 77.4V606.9M926.9 77.4V606.9M957.7 77.4V606.9M988.4 77.4V606.9M1019.1 77.4V606.9M1049.9 77.4V606.9M1080.6 77.4V606.9M1111.4 77.4V606.9M1142.1 77.4V606.9M1172.8 77.4V606.9M1203.6 77.4V606.9M1234.3 77.4V606.9M1265.1 77.4V606.9M1295.8 77.4V606.9M1326.5 77.4V606.9M1357.3 77.4V606.9M1388.0 77.4V606.9M1418.8 77.4V606.9M1464.9 77.4V606.9M1480.2 77.4V606.9M1511.0 77.4V606.9M1557.1 77.4V606.9M1572.5 77.4V606.9M1603.2 77.4V606.9M1649.3 77.4V606.9M1680.1 77.4V606.9M1695.4 77.4V606.9M1726.2 77.4V606.9" stroke="#0000ff" stroke-opacity="0.22" stroke-width="7" fill="none"/>
<path d="M189.2 77.4V606.9M219.9 77.4V606.9M250.7 77.4V606.9M281.4 77.4V606.9M312.1 77.4V606.9M342.9 77.4V606.9M373.6 77.4V606.9M435.1 77.4V606.9M465.8 77.4V606.9M481.2 77.4V606.9M496.6 77.4V606.9M527.3 77.4V606.9M558.0 77.4V606.9M588.8 77.4V606.9M634.9 77.4V606.9M650.3 77.4V606.9M696.4 77.4V606.9M711.8 77.4V606.9M742.5 77.4V606.9M788.6 77.4V606.9M804.0 77.4V606.9M834.7 77.4V606.9M865.5 77.4V606.9M896.2 77.4V606.9M926.9 77.4V606.9M957.7 77.4V606.9M988.4 77.4V606.9M1019.1 77.4V606.9M1049.9 77.4V606.9M1080.6 77.4V606.9M1111.4 77.4V606.9M1142.1 77.4V606.9M1172.8 77.4V606.9M1203.6 77.4V606.9M1234.3 77.4V606.9M1265.1 77.4V606.9M1295.8 77.4V606.9M1326.5 77.4V606.9M1357.3 77.4V606.9M1388.0 77.4V606.9M1418.8 77.4V606.9M1464.9 77.4V606.9M1480.2 77.4V606.9M1511.0 77.4V606.9M1557.1 77.4V606.9M1572.5 77.4V606.9M1603.2 77.4V606.9M1649.3 77.4V606.9M1680.1 77.4V606.9M1695.4 77.4V606.9M1726.2 77.4V606.9" stroke="#0000ff" stroke-width="4.5" fill="none"/>
</g>
<text class="t" transform="translate(174.5 666.2) scale(1 1.07)" text-anchor="middle">0</text>
<text class="t" transform="translate(326.4 666.2) scale(1 1.07)" text-anchor="middle">10</text>
<text class="t" transform="translate(481.0 666.2) scale(1 1.07)" text-anchor="middle">20</text>
<text class="t" transform="translate(634.5 666.2) scale(1 1.07)" text-anchor="middle">30</text>
<text class="t" transform="translate(788.5 666.2) scale(1 1.07)" text-anchor="middle">40</text>
<text class="t" transform="translate(942.6 666.2) scale(1 1.07)" text-anchor="middle">50</text>
<text class="t" transform="translate(1094.8 666.2) scale(1 1.07)" text-anchor="middle">60</text>
<text class="t" transform="translate(1248.6 666.2) scale(1 1.07)" text-anchor="middle">70</text>
<text class="t" transform="translate(1402.6 666.2) scale(1 1.07)" text-anchor="middle">80</text>
<text class="t" transform="translate(1556.7 666.2) scale(1 1.07)" text-anchor="middle">90</text>
<text class="t" transform="translate(1710.7 666.2) scale(1 1.07)" text-anchor="middle">100</text>
<text class="t" transform="translate(158.6 623.7) scale(1 1.07)" text-anchor="end">0</text>
<text class="t" transform="translate(158.6 518.3) scale(1 1.07)" text-anchor="end">0.2</text>
<text class="t" transform="translate(158.6 411.0) scale(1 1.07)" text-anchor="end">0.4</text>
<text class="t" transform="translate(158.6 306.5) scale(1 1.07)" text-anchor="end">0.6</text>
<text class="t" transform="translate(158.6 199.1) scale(1 1.07)" text-anchor="end">0.8</text>
<text class="t" transform="translate(158.6 93.8) scale(1 1.07)" text-anchor="end">1</text>
<text class="s" x="964" y="732.9" text-anchor="middle">Band Index</text>
<text class="s" transform="translate(75.3 340.4) rotate(-90)" text-anchor="middle" style="font-size:59px;letter-spacing:0.35px">Spectral Value</text>
<text class="c" x="849" y="857.8" font-size="85">(</text><text class="c" x="876.5" y="857.8" font-size="84" font-weight="bold">a</text><text class="c" x="918" y="857.8" font-size="85">)</text>
<g>
<rect x="174.6" y="928.5" width="1580.75" height="527.3" fill="none" stroke="#1a1a1a" stroke-width="2.3"/>
<path d="M326.4 1455.8v-15.5M326.4 928.5v15.5M481.0 1455.8v-15.5M481.0 928.5v15.5M634.5 1455.8v-15.5M634.5 928.5v15.5M788.5 1455.8v-15.5M788.5 928.5v15.5M942.6 1455.8v-15.5M942.6 928.5v15.5M1094.8 1455.8v-15.5M1094.8 928.5v15.5M1248.6 1455.8v-15.5M1248.6 928.5v15.5M1402.6 1455.8v-15.5M1402.6 928.5v15.5M1556.7 1455.8v-15.5M1556.7 928.5v15.5M1710.7 1455.8v-15.5M1710.7 928.5v15.5M174.6 1350.8h15.5M1755.35 1350.8h-15.5M174.6 1245.9h15.5M1755.35 1245.9h-15.5M174.6 1138.7h15.5M1755.35 1138.7h-15.5M174.6 1033.9h15.5M1755.35 1033.9h-15.5" stroke="#1a1a1a" stroke-width="2.3" fill="none"/>
<path class="cv" stroke="#cccccc" d="M188.7 1347.2 L196.4 1347.6 L204.0 1347.7 L211.7 1347.8 L219.4 1347.8 L227.1 1347.0 L234.8 1345.1 L242.5 1343.1 L250.2 1341.9 L257.8 1341.5 L265.5 1341.2 L273.2 1340.9 L280.9 1340.7 L288.6 1340.5 L296.3 1340.4 L303.9 1340.2 L311.6 1340.1 L319.3 1339.9 L327.0 1339.7 L334.7 1339.4 L342.4 1339.2 L350.1 1339.1 L357.7 1338.9 L365.4 1338.8 L373.1 1338.6 L380.8 1338.3 L388.5 1337.9 L396.2 1337.4 L403.9 1336.8 L411.5 1336.3 L419.2 1335.8 L426.9 1335.3 L434.6 1335.0 L442.3 1334.8 L450.0 1334.6 L457.6 1334.4 L465.3 1334.3 L473.0 1334.1 L480.7 1334.0 L488.4 1333.9 L496.1 1333.7 L503.8 1333.5 L511.4 1333.1 L519.1 1332.8 L526.8 1332.4 L534.5 1332.1 L542.2 1331.7 L549.9 1331.3 L557.5 1330.9 L565.2 1330.5 L572.9 1329.9 L580.6 1329.4 L588.3 1329.1 L596.0 1328.9 L603.7 1328.8 L611.3 1328.7 L619.0 1328.5 L626.7 1328.4 L634.4 1328.2 L642.1 1327.8 L649.8 1327.3 L657.5 1326.8 L665.1 1326.3 L672.8 1325.8 L680.5 1325.3 L688.2 1324.9 L695.9 1324.5 L703.6 1324.1 L711.2 1323.8 L718.9 1323.5 L726.6 1323.2 L734.3 1322.9 L742.0 1322.7 L749.7 1322.4 L757.4 1322.2 L765.0 1322.0 L772.7 1321.8 L780.4 1321.6 L788.1 1321.5 L795.8 1321.3 L803.5 1321.2 L811.2 1321.1 L818.8 1321.0 L826.5 1320.9 L834.2 1320.8 L841.9 1320.7 L849.6 1320.6 L857.3 1320.5 L865.0 1320.5 L872.6 1320.4 L880.3 1320.3 L888.0 1320.2 L895.7 1320.2 L903.4 1320.1 L911.1 1320.0 L918.7 1320.0 L926.4 1319.9 L934.1 1319.8 L941.8 1319.8 L949.5 1319.7 L957.2 1319.6 L964.9 1319.5 L972.5 1319.5 L980.2 1319.4 L987.9 1319.4 L995.6 1319.3 L1003.3 1319.3 L1011.0 1319.2 L1018.6 1319.2 L1026.3 1319.1 L1034.0 1319.1 L1041.7 1319.0 L1049.4 1319.0 L1057.1 1318.9 L1064.8 1318.9 L1072.4 1318.9 L1080.1 1318.8 L1087.8 1318.8 L1095.5 1318.7 L1103.2 1318.7 L1110.9 1318.6 L1118.6 1318.5 L1126.2 1318.3 L1133.9 1318.1 L1141.6 1318.1 L1149.3 1318.1 L1157.0 1318.1 L1164.7 1318.1 L1172.3 1318.1 L1180.0 1318.0 L1187.7 1317.9 L1195.4 1317.8 L1203.1 1317.7 L1210.8 1317.6 L1218.5 1317.4 L1226.1 1317.3 L1233.8 1317.1 L1241.5 1317.0 L1249.2 1316.9 L1256.9 1316.7 L1264.6 1316.6 L1272.3 1316.5 L1279.9 1316.4 L1287.6 1316.3 L1295.3 1316.2 L1303.0 1316.1 L1310.7 1315.8 L1318.4 1315.6 L1326.0 1315.3 L1333.7 1315.1 L1341.4 1314.8 L1349.1 1314.6 L1356.8 1314.4 L1364.5 1314.3 L1372.2 1314.2 L1379.8 1314.1 L1387.5 1314.0 L1395.2 1313.7 L1402.9 1313.1 L1410.6 1312.5 L1418.3 1312.3 L1426.0 1312.3 L1433.6 1312.3 L1441.3 1312.3 L1449.0 1312.3 L1456.7 1312.3 L1464.4 1312.3 L1472.1 1312.3 L1479.8 1312.4 L1487.4 1312.5 L1495.1 1312.6 L1502.8 1312.7 L1510.5 1312.7 L1518.2 1312.7 L1525.9 1312.7 L1533.5 1312.7 L1541.2 1312.7 L1548.9 1312.7 L1556.6 1312.7 L1564.3 1312.7 L1572.0 1312.7 L1579.7 1312.7 L1587.3 1312.8 L1595.0 1312.8 L1602.7 1312.9 L1610.4 1312.9 L1618.1 1313.0 L1625.8 1313.1 L1633.4 1313.1 L1641.1 1313.2 L1648.8 1313.3 L1656.5 1313.4 L1664.2 1313.4 L1671.9 1313.5 L1679.6 1313.6 L1687.2 1313.7 L1694.9 1313.9 L1702.6 1314.1 L1710.3 1314.5 L1718.0 1314.9 L1725.7 1315.3 L1733.4 1315.6 L1741.0 1315.8 L1748.7 1316.1 L1756.4 1316.3"/>
<path class="cv" stroke="#00ff00" d="M188.7 1381.8 L196.4 1385.5 L204.0 1389.1 L211.7 1393.0 L219.4 1395.6 L227.1 1396.2 L234.8 1396.6 L242.5 1396.9 L250.2 1397.1 L257.8 1397.2 L265.5 1397.3 L273.2 1397.4 L280.9 1397.5 L288.6 1397.6 L296.3 1397.8 L303.9 1398.1 L311.6 1398.3 L319.3 1398.6 L327.0 1399.0 L334.7 1399.3 L342.4 1399.6 L350.1 1399.8 L357.7 1400.0 L365.4 1400.1 L373.1 1400.2 L380.8 1400.1 L388.5 1400.1 L396.2 1400.0 L403.9 1399.8 L411.5 1399.7 L419.2 1399.5 L426.9 1399.3 L434.6 1399.0 L442.3 1398.6 L450.0 1397.9 L457.6 1397.1 L465.3 1396.2 L473.0 1395.3 L480.7 1394.2 L488.4 1393.0 L496.1 1391.6 L503.8 1390.2 L511.4 1388.6 L519.1 1386.9 L526.8 1385.2 L534.5 1383.5 L542.2 1381.6 L549.9 1379.8 L557.5 1377.9 L565.2 1375.7 L572.9 1373.4 L580.6 1371.2 L588.3 1369.6 L596.0 1368.4 L603.7 1367.4 L611.3 1366.6 L619.0 1365.8 L626.7 1365.0 L634.4 1364.1 L642.1 1362.8 L649.8 1361.8 L657.5 1361.4 L665.1 1361.1 L672.8 1360.8 L680.5 1360.6 L688.2 1360.4 L695.9 1360.4 L703.6 1360.4 L711.2 1360.4 L718.9 1360.4 L726.6 1360.6 L734.3 1360.8 L742.0 1360.9 L749.7 1361.1 L757.4 1361.2 L765.0 1361.4 L772.7 1361.5 L780.4 1361.7 L788.1 1361.8 L795.8 1362.1 L803.5 1362.2 L811.2 1362.2 L818.8 1362.0 L826.5 1361.8 L834.2 1361.7 L841.9 1361.5 L849.6 1361.2 L857.3 1361.0 L865.0 1360.9 L872.6 1360.9 L880.3 1360.9 L888.0 1360.9 L895.7 1360.9 L903.4 1360.9 L911.1 1360.9 L918.7 1360.9 L926.4 1360.9 L934.1 1360.8 L941.8 1360.6 L949.5 1360.2 L957.2 1360.0 L964.9 1359.8 L972.5 1359.6 L980.2 1359.5 L987.9 1359.5 L995.6 1359.6 L1003.3 1359.9 L1011.0 1360.3 L1018.6 1360.7 L1026.3 1361.1 L1034.0 1361.5 L1041.7 1361.9 L1049.4 1362.2 L1057.1 1362.5 L1064.8 1362.7 L1072.4 1362.9 L1080.1 1363.1 L1087.8 1363.3 L1095.5 1363.5 L1103.2 1363.6 L1110.9 1363.7 L1118.6 1363.6 L1126.2 1363.3 L1133.9 1362.8 L1141.6 1362.3 L1149.3 1361.5 L1157.0 1360.3 L1164.7 1358.9 L1172.3 1357.1 L1180.0 1354.3 L1187.7 1350.7 L1195.4 1346.2 L1203.1 1341.1 L1210.8 1335.6 L1218.5 1329.7 L1226.1 1323.2 L1233.8 1316.5 L1241.5 1310.1 L1249.2 1303.7 L1256.9 1296.8 L1264.6 1289.7 L1272.3 1282.7 L1279.9 1275.7 L1287.6 1268.5 L1295.3 1261.0 L1303.0 1253.1 L1310.7 1245.0 L1318.4 1236.5 L1326.0 1228.8 L1333.7 1223.4 L1341.4 1218.5 L1349.1 1213.3 L1356.8 1208.4 L1364.5 1204.0 L1372.2 1200.0 L1379.8 1196.2 L1387.5 1193.0 L1395.2 1190.5 L1402.9 1188.4 L1410.6 1186.5 L1418.3 1184.5 L1426.0 1182.0 L1433.6 1180.5 L1441.3 1180.5 L1449.0 1180.5 L1456.7 1181.5 L1464.4 1182.5 L1472.1 1181.8 L1479.8 1180.5 L1487.4 1178.5 L1495.1 1176.5 L1502.8 1175.1 L1510.5 1174.1 L1518.2 1173.4 L1525.9 1172.9 L1533.5 1172.7 L1541.2 1172.5 L1548.9 1171.6 L1556.6 1170.5 L1564.3 1169.8 L1572.0 1169.5 L1579.7 1169.5 L1587.3 1169.5 L1595.0 1169.5 L1602.7 1169.5 L1610.4 1169.2 L1618.1 1168.9 L1625.8 1168.6 L1633.4 1168.5 L1641.1 1168.8 L1648.8 1169.5 L1656.5 1170.0 L1664.2 1170.5 L1671.9 1171.0 L1679.6 1171.5 L1687.2 1172.0 L1694.9 1172.5 L1702.6 1173.1 L1710.3 1173.5 L1718.0 1173.3 L1725.7 1172.9 L1733.4 1172.3 L1741.0 1171.5 L1748.7 1170.6 L1756.4 1169.5"/>
<path class="cv" stroke="#00ffff" d="M188.7 1321.7 L196.4 1322.4 L204.0 1323.0 L211.7 1323.4 L219.4 1323.5 L227.1 1323.5 L234.8 1323.3 L242.5 1323.2 L250.2 1322.9 L257.8 1322.5 L265.5 1321.8 L273.2 1321.0 L280.9 1320.5 L288.6 1320.1 L296.3 1319.9 L303.9 1319.6 L311.6 1319.2 L319.3 1318.6 L327.0 1317.8 L334.7 1317.1 L342.4 1316.8 L350.1 1317.0 L357.7 1317.5 L365.4 1318.0 L373.1 1318.3 L380.8 1318.2 L388.5 1318.0 L396.2 1317.6 L403.9 1317.2 L411.5 1316.7 L419.2 1316.1 L426.9 1315.4 L434.6 1314.8 L442.3 1313.8 L450.0 1312.4 L457.6 1310.9 L465.3 1309.6 L473.0 1308.4 L480.7 1307.2 L488.4 1306.1 L496.1 1305.2 L503.8 1304.5 L511.4 1304.0 L519.1 1303.4 L526.8 1302.6 L534.5 1301.3 L542.2 1299.5 L549.9 1297.6 L557.5 1296.0 L565.2 1294.8 L572.9 1293.8 L580.6 1292.9 L588.3 1291.9 L596.0 1290.9 L603.7 1290.0 L611.3 1289.0 L619.0 1288.0 L626.7 1287.0 L634.4 1285.9 L642.1 1284.7 L649.8 1283.5 L657.5 1282.2 L665.1 1281.0 L672.8 1279.7 L680.5 1278.4 L688.2 1277.2 L695.9 1276.1 L703.6 1275.1 L711.2 1274.3 L718.9 1273.5 L726.6 1272.8 L734.3 1272.1 L742.0 1271.7 L749.7 1271.4 L757.4 1271.2 L765.0 1271.1 L772.7 1270.9 L780.4 1270.8 L788.1 1270.6 L795.8 1270.4 L803.5 1270.2 L811.2 1269.9 L818.8 1269.5 L826.5 1269.1 L834.2 1268.8 L841.9 1268.5 L849.6 1268.2 L857.3 1268.0 L865.0 1267.8 L872.6 1267.7 L880.3 1267.6 L888.0 1267.5 L895.7 1267.5 L903.4 1267.5 L911.1 1267.7 L918.7 1267.8 L926.4 1267.8 L934.1 1267.8 L941.8 1267.7 L949.5 1267.6 L957.2 1267.5 L964.9 1267.2 L972.5 1266.8 L980.2 1266.4 L987.9 1266.2 L995.6 1266.2 L1003.3 1266.4 L1011.0 1266.5 L1018.6 1266.6 L1026.3 1266.5 L1034.0 1266.4 L1041.7 1266.3 L1049.4 1266.2 L1057.1 1266.0 L1064.8 1265.6 L1072.4 1265.3 L1080.1 1265.1 L1087.8 1265.0 L1095.5 1265.0 L1103.2 1264.9 L1110.9 1264.9 L1118.6 1265.0 L1126.2 1265.2 L1133.9 1265.4 L1141.6 1265.6 L1149.3 1265.9 L1157.0 1266.2 L1164.7 1266.5 L1172.3 1266.6 L1180.0 1266.4 L1187.7 1265.9 L1195.4 1265.3 L1203.1 1264.7 L1210.8 1264.1 L1218.5 1263.3 L1226.1 1262.5 L1233.8 1262.0 L1241.5 1261.5 L1249.2 1261.2 L1256.9 1260.9 L1264.6 1260.7 L1272.3 1260.5 L1279.9 1260.4 L1287.6 1260.3 L1295.3 1260.1 L1303.0 1259.8 L1310.7 1259.3 L1318.4 1258.8 L1326.0 1258.3 L1333.7 1257.7 L1341.4 1257.1 L1349.1 1256.6 L1356.8 1256.4 L1364.5 1256.5 L1372.2 1256.6 L1379.8 1256.8 L1387.5 1257.0 L1395.2 1257.3 L1402.9 1257.7 L1410.6 1258.3 L1418.3 1259.1 L1426.0 1260.3 L1433.6 1262.1 L1441.3 1265.1 L1449.0 1267.1 L1456.7 1266.9 L1464.4 1266.1 L1472.1 1261.1 L1479.8 1256.1 L1487.4 1255.4 L1495.1 1255.1 L1502.8 1256.8 L1510.5 1259.1 L1518.2 1260.3 L1525.9 1261.1 L1533.5 1261.5 L1541.2 1261.7 L1548.9 1261.7 L1556.6 1261.7 L1564.3 1261.4 L1572.0 1261.1 L1579.7 1261.3 L1587.3 1261.7 L1595.0 1261.9 L1602.7 1262.1 L1610.4 1262.4 L1618.1 1262.7 L1625.8 1263.3 L1633.4 1264.1 L1641.1 1265.2 L1648.8 1266.1 L1656.5 1266.8 L1664.2 1267.1 L1671.9 1266.8 L1679.6 1266.5 L1687.2 1266.5 L1694.9 1266.5 L1702.6 1266.8 L1710.3 1267.1 L1718.0 1267.1 L1725.7 1267.1 L1733.4 1266.8 L1741.0 1266.1 L1748.7 1265.4 L1756.4 1264.5"/>
<path class="cv" stroke="#008000" d="M188.7 1389.0 L196.4 1392.9 L204.0 1397.1 L211.7 1402.4 L219.4 1406.3 L227.1 1407.6 L234.8 1408.4 L242.5 1409.1 L250.2 1409.8 L257.8 1410.6 L265.5 1411.4 L273.2 1412.2 L280.9 1413.0 L288.6 1414.0 L296.3 1415.0 L303.9 1416.1 L311.6 1416.9 L319.3 1417.5 L327.0 1418.1 L334.7 1418.6 L342.4 1419.1 L350.1 1419.6 L357.7 1420.0 L365.4 1420.5 L373.1 1420.8 L380.8 1421.1 L388.5 1421.4 L396.2 1421.7 L403.9 1421.9 L411.5 1422.2 L419.2 1422.3 L426.9 1422.5 L434.6 1422.5 L442.3 1422.4 L450.0 1422.0 L457.6 1421.6 L465.3 1421.1 L473.0 1420.6 L480.7 1419.9 L488.4 1419.2 L496.1 1418.3 L503.8 1417.2 L511.4 1415.9 L519.1 1414.4 L526.8 1412.8 L534.5 1411.2 L542.2 1409.4 L549.9 1407.4 L557.5 1405.4 L565.2 1403.1 L572.9 1400.4 L580.6 1398.0 L588.3 1396.2 L596.0 1395.2 L603.7 1394.2 L611.3 1393.5 L619.0 1392.8 L626.7 1392.2 L634.4 1391.6 L642.1 1391.1 L649.8 1390.7 L657.5 1390.8 L665.1 1390.9 L672.8 1391.1 L680.5 1391.4 L688.2 1391.7 L695.9 1392.0 L703.6 1392.6 L711.2 1393.5 L718.9 1394.6 L726.6 1396.0 L734.3 1397.4 L742.0 1398.6 L749.7 1399.7 L757.4 1400.8 L765.0 1401.8 L772.7 1402.8 L780.4 1403.7 L788.1 1404.5 L795.8 1405.3 L803.5 1406.0 L811.2 1406.5 L818.8 1407.0 L826.5 1407.4 L834.2 1407.8 L841.9 1408.2 L849.6 1408.5 L857.3 1408.8 L865.0 1409.1 L872.6 1409.5 L880.3 1410.0 L888.0 1410.5 L895.7 1411.0 L903.4 1411.4 L911.1 1411.8 L918.7 1412.2 L926.4 1412.4 L934.1 1412.6 L941.8 1412.6 L949.5 1412.7 L957.2 1412.8 L964.9 1413.0 L972.5 1413.2 L980.2 1413.4 L987.9 1413.7 L995.6 1414.2 L1003.3 1415.0 L1011.0 1415.8 L1018.6 1416.5 L1026.3 1417.0 L1034.0 1417.4 L1041.7 1417.9 L1049.4 1418.3 L1057.1 1418.8 L1064.8 1419.2 L1072.4 1419.7 L1080.1 1420.2 L1087.8 1420.7 L1095.5 1421.4 L1103.2 1422.0 L1110.9 1422.2 L1118.6 1422.1 L1126.2 1421.9 L1133.9 1421.7 L1141.6 1421.3 L1149.3 1420.5 L1157.0 1419.3 L1164.7 1417.8 L1172.3 1415.8 L1180.0 1413.0 L1187.7 1409.4 L1195.4 1405.2 L1203.1 1400.2 L1210.8 1393.8 L1218.5 1386.6 L1226.1 1379.7 L1233.8 1372.0 L1241.5 1362.2 L1249.2 1351.3 L1256.9 1340.2 L1264.6 1328.8 L1272.3 1317.1 L1279.9 1305.2 L1287.6 1293.6 L1295.3 1281.5 L1303.0 1268.1 L1310.7 1253.5 L1318.4 1237.0 L1326.0 1219.6 L1333.7 1202.5 L1341.4 1185.4 L1349.1 1168.0 L1356.8 1152.1 L1364.5 1139.7 L1372.2 1128.6 L1379.8 1117.8 L1387.5 1107.4 L1395.2 1097.1 L1402.9 1087.9 L1410.6 1080.3 L1418.3 1074.2 L1426.0 1068.6 L1433.6 1065.7 L1441.3 1065.8 L1449.0 1066.0 L1456.7 1067.8 L1464.4 1069.5 L1472.1 1067.8 L1479.8 1064.5 L1487.4 1059.7 L1495.1 1055.1 L1502.8 1052.4 L1510.5 1051.1 L1518.2 1051.1 L1525.9 1051.1 L1533.5 1051.1 L1541.2 1051.1 L1548.9 1050.9 L1556.6 1050.7 L1564.3 1050.1 L1572.0 1049.7 L1579.7 1050.4 L1587.3 1051.7 L1595.0 1052.8 L1602.7 1053.7 L1610.4 1053.9 L1618.1 1054.1 L1625.8 1054.5 L1633.4 1055.1 L1641.1 1056.3 L1648.8 1058.1 L1656.5 1060.1 L1664.2 1062.1 L1671.9 1063.8 L1679.6 1065.1 L1687.2 1066.0 L1694.9 1066.7 L1702.6 1067.6 L1710.3 1068.1 L1718.0 1068.1 L1725.7 1068.1 L1733.4 1067.3 L1741.0 1065.7 L1748.7 1064.2 L1756.4 1062.5"/>
<path class="cv" stroke="#ff00ff" d="M188.7 1146.9 L196.4 1141.9 L204.0 1136.9 L211.7 1132.4 L219.4 1126.8 L227.1 1116.2 L234.8 1103.1 L242.5 1090.0 L250.2 1077.5 L257.8 1066.9 L265.5 1057.5 L273.2 1049.0 L280.9 1041.6 L288.6 1035.8 L296.3 1030.3 L303.9 1024.2 L311.6 1017.8 L319.3 1011.6 L327.0 1005.0 L334.7 996.9 L342.4 989.7 L350.1 985.3 L357.7 981.4 L365.4 977.0 L373.1 972.6 L380.8 968.5 L388.5 965.1 L396.2 963.0 L403.9 961.4 L411.5 959.6 L419.2 958.1 L426.9 956.9 L434.6 955.8 L442.3 954.9 L450.0 954.3 L457.6 954.6 L465.3 955.1 L473.0 955.7 L480.7 956.3 L488.4 956.9 L496.1 957.6 L503.8 958.6 L511.4 960.1 L519.1 962.3 L526.8 964.6 L534.5 966.3 L542.2 967.6 L549.9 968.5 L557.5 968.9 L565.2 968.9 L572.9 968.9 L580.6 970.6 L588.3 973.9 L596.0 977.5 L603.7 981.4 L611.3 985.4 L619.0 989.1 L626.7 992.1 L634.4 994.9 L642.1 997.7 L649.8 1000.7 L657.5 1005.0 L665.1 1009.8 L672.8 1014.5 L680.5 1019.0 L688.2 1023.0 L695.9 1026.8 L703.6 1030.8 L711.2 1035.0 L718.9 1039.9 L726.6 1045.2 L734.3 1050.7 L742.0 1056.5 L749.7 1062.7 L757.4 1069.2 L765.0 1076.1 L772.7 1083.2 L780.4 1090.0 L788.1 1097.0 L795.8 1104.3 L803.5 1112.0 L811.2 1120.3 L818.8 1128.7 L826.5 1136.5 L834.2 1143.8 L841.9 1150.3 L849.6 1156.3 L857.3 1162.2 L865.0 1167.6 L872.6 1172.4 L880.3 1176.8 L888.0 1180.8 L895.7 1184.8 L903.4 1189.3 L911.1 1193.5 L918.7 1196.6 L926.4 1199.3 L934.1 1201.9 L941.8 1204.2 L949.5 1206.2 L957.2 1208.0 L964.9 1209.5 L972.5 1210.9 L980.2 1212.0 L987.9 1213.2 L995.6 1214.9 L1003.3 1216.7 L1011.0 1218.2 L1018.6 1219.6 L1026.3 1220.9 L1034.0 1221.9 L1041.7 1222.3 L1049.4 1222.5 L1057.1 1222.5 L1064.8 1222.5 L1072.4 1222.0 L1080.1 1221.0 L1087.8 1220.1 L1095.5 1219.0 L1103.2 1217.0 L1110.9 1214.6 L1118.6 1212.6 L1126.2 1210.7 L1133.9 1208.9 L1141.6 1207.3 L1149.3 1206.0 L1157.0 1204.9 L1164.7 1203.8 L1172.3 1202.7 L1180.0 1201.5 L1187.7 1200.3 L1195.4 1199.2 L1203.1 1198.1 L1210.8 1197.0 L1218.5 1195.9 L1226.1 1195.0 L1233.8 1194.4 L1241.5 1194.0 L1249.2 1193.9 L1256.9 1194.4 L1264.6 1195.3 L1272.3 1196.5 L1279.9 1198.1 L1287.6 1200.3 L1295.3 1202.7 L1303.0 1204.7 L1310.7 1206.4 L1318.4 1207.6 L1326.0 1208.2 L1333.7 1208.1 L1341.4 1207.8 L1349.1 1206.9 L1356.8 1205.4 L1364.5 1203.8 L1372.2 1201.8 L1379.8 1199.3 L1387.5 1197.2 L1395.2 1196.1 L1402.9 1195.3 L1410.6 1194.6 L1418.3 1193.6 L1426.0 1191.2 L1433.6 1189.5 L1441.3 1189.5 L1449.0 1189.5 L1456.7 1190.5 L1464.4 1191.5 L1472.1 1191.2 L1479.8 1190.5 L1487.4 1189.3 L1495.1 1188.1 L1502.8 1187.7 L1510.5 1187.5 L1518.2 1187.9 L1525.9 1188.5 L1533.5 1189.2 L1541.2 1189.5 L1548.9 1189.2 L1556.6 1188.5 L1564.3 1187.8 L1572.0 1186.9 L1579.7 1186.3 L1587.3 1185.5 L1595.0 1184.7 L1602.7 1183.5 L1610.4 1181.6 L1618.1 1179.5 L1625.8 1177.8 L1633.4 1176.1 L1641.1 1174.3 L1648.8 1172.5 L1656.5 1170.9 L1664.2 1169.5 L1671.9 1167.9 L1679.6 1166.5 L1687.2 1165.2 L1694.9 1164.1 L1702.6 1162.7 L1710.3 1161.4 L1718.0 1160.5 L1725.7 1159.4 L1733.4 1157.9 L1741.0 1156.0 L1748.7 1154.1 L1756.4 1152.0"/>
<path class="cv" stroke="#ff8000" d="M188.7 1369.5 L196.4 1374.5 L204.0 1378.2 L211.7 1380.9 L219.4 1382.2 L227.1 1381.7 L234.8 1380.4 L242.5 1379.1 L250.2 1378.3 L257.8 1378.0 L265.5 1377.8 L273.2 1377.6 L280.9 1377.5 L288.6 1377.4 L296.3 1377.3 L303.9 1377.2 L311.6 1377.1 L319.3 1377.0 L327.0 1376.9 L334.7 1376.8 L342.4 1376.6 L350.1 1376.4 L357.7 1376.1 L365.4 1375.8 L373.1 1375.4 L380.8 1374.9 L388.5 1374.4 L396.2 1373.7 L403.9 1373.0 L411.5 1372.2 L419.2 1371.4 L426.9 1370.5 L434.6 1369.6 L442.3 1368.6 L450.0 1367.4 L457.6 1366.2 L465.3 1365.0 L473.0 1363.8 L480.7 1362.7 L488.4 1361.5 L496.1 1360.4 L503.8 1359.3 L511.4 1358.2 L519.1 1357.0 L526.8 1355.8 L534.5 1354.3 L542.2 1352.7 L549.9 1351.1 L557.5 1349.3 L565.2 1347.5 L572.9 1345.5 L580.6 1343.6 L588.3 1342.0 L596.0 1340.7 L603.7 1339.6 L611.3 1338.7 L619.0 1337.7 L626.7 1336.7 L634.4 1335.5 L642.1 1334.1 L649.8 1332.8 L657.5 1331.8 L665.1 1330.9 L672.8 1330.1 L680.5 1329.4 L688.2 1328.8 L695.9 1328.2 L703.6 1327.7 L711.2 1327.3 L718.9 1326.9 L726.6 1326.5 L734.3 1326.1 L742.0 1325.8 L749.7 1325.5 L757.4 1325.1 L765.0 1324.8 L772.7 1324.5 L780.4 1324.2 L788.1 1324.0 L795.8 1323.8 L803.5 1323.6 L811.2 1323.3 L818.8 1323.0 L826.5 1322.6 L834.2 1322.3 L841.9 1321.9 L849.6 1321.5 L857.3 1321.1 L865.0 1320.8 L872.6 1320.5 L880.3 1320.3 L888.0 1320.1 L895.7 1319.9 L903.4 1319.8 L911.1 1319.7 L918.7 1319.6 L926.4 1319.5 L934.1 1319.4 L941.8 1319.1 L949.5 1318.9 L957.2 1318.6 L964.9 1318.3 L972.5 1317.9 L980.2 1317.6 L987.9 1317.5 L995.6 1317.5 L1003.3 1317.5 L1011.0 1317.5 L1018.6 1317.5 L1026.3 1317.5 L1034.0 1317.5 L1041.7 1317.5 L1049.4 1317.5 L1057.1 1317.5 L1064.8 1317.5 L1072.4 1317.5 L1080.1 1317.5 L1087.8 1317.5 L1095.5 1317.4 L1103.2 1317.3 L1110.9 1317.1 L1118.6 1316.9 L1126.2 1316.5 L1133.9 1315.9 L1141.6 1315.3 L1149.3 1314.6 L1157.0 1313.8 L1164.7 1312.8 L1172.3 1311.6 L1180.0 1310.1 L1187.7 1308.2 L1195.4 1305.9 L1203.1 1303.3 L1210.8 1300.2 L1218.5 1296.4 L1226.1 1292.3 L1233.8 1288.0 L1241.5 1283.5 L1249.2 1278.9 L1256.9 1274.5 L1264.6 1270.1 L1272.3 1265.8 L1279.9 1261.7 L1287.6 1258.0 L1295.3 1254.5 L1303.0 1251.5 L1310.7 1248.4 L1318.4 1244.7 L1326.0 1240.8 L1333.7 1236.9 L1341.4 1233.1 L1349.1 1229.6 L1356.8 1226.4 L1364.5 1223.5 L1372.2 1220.7 L1379.8 1217.9 L1387.5 1215.5 L1395.2 1213.8 L1402.9 1212.4 L1410.6 1211.1 L1418.3 1209.6 L1426.0 1207.5 L1433.6 1206.2 L1441.3 1206.3 L1449.0 1206.6 L1456.7 1208.7 L1464.4 1210.6 L1472.1 1210.6 L1479.8 1210.6 L1487.4 1209.7 L1495.1 1208.2 L1502.8 1207.3 L1510.5 1206.6 L1518.2 1206.3 L1525.9 1206.0 L1533.5 1205.8 L1541.2 1205.6 L1548.9 1205.0 L1556.6 1204.2 L1564.3 1203.4 L1572.0 1203.0 L1579.7 1203.2 L1587.3 1203.6 L1595.0 1203.9 L1602.7 1204.0 L1610.4 1203.8 L1618.1 1203.6 L1625.8 1203.3 L1633.4 1203.2 L1641.1 1203.7 L1648.8 1204.6 L1656.5 1205.4 L1664.2 1206.2 L1671.9 1206.8 L1679.6 1207.2 L1687.2 1207.4 L1694.9 1207.6 L1702.6 1207.9 L1710.3 1208.0 L1718.0 1207.9 L1725.7 1207.6 L1733.4 1207.3 L1741.0 1207.0 L1748.7 1206.4 L1756.4 1205.6"/>
<path class="cv" stroke="#990080" d="M188.7 1341.3 L196.4 1341.5 L204.0 1341.6 L211.7 1341.7 L219.4 1341.7 L227.1 1340.3 L234.8 1337.2 L242.5 1333.8 L250.2 1331.5 L257.8 1330.4 L265.5 1329.5 L273.2 1328.8 L280.9 1328.1 L288.6 1327.4 L296.3 1326.9 L303.9 1326.3 L311.6 1325.6 L319.3 1324.7 L327.0 1323.5 L334.7 1322.4 L342.4 1321.4 L350.1 1320.8 L357.7 1320.2 L365.4 1319.6 L373.1 1319.0 L380.8 1318.3 L388.5 1317.6 L396.2 1316.9 L403.9 1316.1 L411.5 1315.4 L419.2 1314.7 L426.9 1314.0 L434.6 1313.5 L442.3 1312.9 L450.0 1312.4 L457.6 1311.9 L465.3 1311.6 L473.0 1311.5 L480.7 1311.3 L488.4 1311.2 L496.1 1311.1 L503.8 1310.9 L511.4 1310.7 L519.1 1310.5 L526.8 1310.3 L534.5 1310.1 L542.2 1309.8 L549.9 1309.5 L557.5 1309.2 L565.2 1308.9 L572.9 1308.4 L580.6 1308.1 L588.3 1307.9 L596.0 1307.9 L603.7 1307.9 L611.3 1307.9 L619.0 1307.9 L626.7 1307.9 L634.4 1307.9 L642.1 1307.8 L649.8 1307.6 L657.5 1307.4 L665.1 1307.1 L672.8 1306.8 L680.5 1306.6 L688.2 1306.3 L695.9 1306.1 L703.6 1305.9 L711.2 1305.7 L718.9 1305.6 L726.6 1305.4 L734.3 1305.3 L742.0 1305.2 L749.7 1305.1 L757.4 1305.0 L765.0 1304.9 L772.7 1304.8 L780.4 1304.8 L788.1 1304.6 L795.8 1304.5 L803.5 1304.3 L811.2 1304.1 L818.8 1304.0 L826.5 1303.8 L834.2 1303.7 L841.9 1303.6 L849.6 1303.5 L857.3 1303.4 L865.0 1303.3 L872.6 1303.3 L880.3 1303.3 L888.0 1303.3 L895.7 1303.3 L903.4 1303.3 L911.1 1303.3 L918.7 1303.3 L926.4 1303.3 L934.1 1303.3 L941.8 1303.2 L949.5 1303.1 L957.2 1303.0 L964.9 1302.9 L972.5 1302.7 L980.2 1302.6 L987.9 1302.4 L995.6 1302.3 L1003.3 1302.2 L1011.0 1302.1 L1018.6 1302.1 L1026.3 1302.1 L1034.0 1302.1 L1041.7 1302.1 L1049.4 1302.1 L1057.1 1302.0 L1064.8 1301.9 L1072.4 1301.7 L1080.1 1301.5 L1087.8 1301.3 L1095.5 1301.2 L1103.2 1301.0 L1110.9 1301.0 L1118.6 1301.0 L1126.2 1301.0 L1133.9 1301.0 L1141.6 1301.0 L1149.3 1301.0 L1157.0 1301.0 L1164.7 1301.0 L1172.3 1301.0 L1180.0 1301.0 L1187.7 1301.0 L1195.4 1301.1 L1203.1 1301.1 L1210.8 1301.1 L1218.5 1301.1 L1226.1 1301.1 L1233.8 1301.1 L1241.5 1301.1 L1249.2 1301.1 L1256.9 1301.1 L1264.6 1301.1 L1272.3 1301.1 L1279.9 1301.1 L1287.6 1301.1 L1295.3 1301.1 L1303.0 1301.1 L1310.7 1300.9 L1318.4 1300.8 L1326.0 1300.6 L1333.7 1300.4 L1341.4 1300.3 L1349.1 1300.2 L1356.8 1300.0 L1364.5 1299.9 L1372.2 1299.8 L1379.8 1299.7 L1387.5 1299.7 L1395.2 1299.8 L1402.9 1300.0 L1410.6 1300.1 L1418.3 1300.2 L1426.0 1300.0 L1433.6 1299.8 L1441.3 1300.0 L1449.0 1300.2 L1456.7 1300.5 L1464.4 1300.6 L1472.1 1300.4 L1479.8 1300.2 L1487.4 1300.2 L1495.1 1300.2 L1502.8 1300.5 L1510.5 1300.8 L1518.2 1301.1 L1525.9 1301.2 L1533.5 1301.5 L1541.2 1301.6 L1548.9 1301.6 L1556.6 1301.6 L1564.3 1301.4 L1572.0 1301.2 L1579.7 1301.5 L1587.3 1301.8 L1595.0 1302.1 L1602.7 1302.2 L1610.4 1302.5 L1618.1 1302.6 L1625.8 1302.6 L1633.4 1302.6 L1641.1 1302.9 L1648.8 1303.2 L1656.5 1303.5 L1664.2 1303.7 L1671.9 1303.8 L1679.6 1303.9 L1687.2 1304.0 L1694.9 1304.3 L1702.6 1304.7 L1710.3 1305.3 L1718.0 1305.9 L1725.7 1306.3 L1733.4 1306.3 L1741.0 1306.3 L1748.7 1306.1 L1756.4 1305.9"/>
<path class="cv" stroke="#ff0000" d="M188.7 1326.6 L196.4 1326.6 L204.0 1326.6 L211.7 1326.6 L219.4 1326.6 L227.1 1325.2 L234.8 1321.9 L242.5 1318.4 L250.2 1316.2 L257.8 1315.1 L265.5 1314.3 L273.2 1313.7 L280.9 1313.4 L288.6 1313.2 L296.3 1313.1 L303.9 1313.0 L311.6 1312.9 L319.3 1312.2 L327.0 1310.9 L334.7 1309.6 L342.4 1308.6 L350.1 1308.0 L357.7 1307.6 L365.4 1307.2 L373.1 1306.7 L380.8 1306.1 L388.5 1305.3 L396.2 1304.4 L403.9 1303.5 L411.5 1302.6 L419.2 1301.6 L426.9 1300.6 L434.6 1299.7 L442.3 1298.7 L450.0 1297.8 L457.6 1296.9 L465.3 1296.0 L473.0 1295.1 L480.7 1294.3 L488.4 1293.5 L496.1 1292.7 L503.8 1291.8 L511.4 1291.0 L519.1 1290.1 L526.8 1289.1 L534.5 1287.8 L542.2 1286.4 L549.9 1284.8 L557.5 1283.5 L565.2 1282.3 L572.9 1281.1 L580.6 1280.0 L588.3 1279.1 L596.0 1278.3 L603.7 1277.6 L611.3 1276.9 L619.0 1276.3 L626.7 1275.6 L634.4 1274.8 L642.1 1273.9 L649.8 1273.0 L657.5 1272.1 L665.1 1271.3 L672.8 1270.5 L680.5 1269.7 L688.2 1268.9 L695.9 1268.0 L703.6 1267.1 L711.2 1266.2 L718.9 1265.4 L726.6 1264.6 L734.3 1263.8 L742.0 1263.2 L749.7 1262.8 L757.4 1262.3 L765.0 1261.9 L772.7 1261.6 L780.4 1261.3 L788.1 1261.0 L795.8 1260.9 L803.5 1260.7 L811.2 1260.4 L818.8 1260.0 L826.5 1259.5 L834.2 1259.2 L841.9 1258.9 L849.6 1258.7 L857.3 1258.4 L865.0 1258.3 L872.6 1258.1 L880.3 1258.0 L888.0 1257.9 L895.7 1257.9 L903.4 1257.9 L911.1 1257.9 L918.7 1257.9 L926.4 1257.9 L934.1 1257.9 L941.8 1257.9 L949.5 1257.8 L957.2 1257.7 L964.9 1257.5 L972.5 1257.0 L980.2 1256.6 L987.9 1256.4 L995.6 1256.5 L1003.3 1256.6 L1011.0 1256.7 L1018.6 1256.8 L1026.3 1256.8 L1034.0 1256.7 L1041.7 1256.6 L1049.4 1256.4 L1057.1 1256.2 L1064.8 1255.8 L1072.4 1255.5 L1080.1 1255.2 L1087.8 1254.9 L1095.5 1254.7 L1103.2 1254.5 L1110.9 1254.4 L1118.6 1254.5 L1126.2 1254.6 L1133.9 1254.7 L1141.6 1254.7 L1149.3 1254.7 L1157.0 1254.7 L1164.7 1254.7 L1172.3 1254.7 L1180.0 1254.6 L1187.7 1254.2 L1195.4 1253.8 L1203.1 1253.3 L1210.8 1252.7 L1218.5 1252.1 L1226.1 1251.4 L1233.8 1250.9 L1241.5 1250.4 L1249.2 1250.1 L1256.9 1250.3 L1264.6 1250.5 L1272.3 1250.6 L1279.9 1250.8 L1287.6 1250.8 L1295.3 1250.9 L1303.0 1250.6 L1310.7 1250.1 L1318.4 1249.3 L1326.0 1248.7 L1333.7 1248.1 L1341.4 1247.5 L1349.1 1246.9 L1356.8 1246.5 L1364.5 1246.1 L1372.2 1245.8 L1379.8 1245.6 L1387.5 1245.5 L1395.2 1245.6 L1402.9 1245.6 L1410.6 1245.7 L1418.3 1245.8 L1426.0 1246.4 L1433.6 1247.5 L1441.3 1249.5 L1449.0 1250.9 L1456.7 1250.6 L1464.4 1249.8 L1472.1 1247.4 L1479.8 1245.1 L1487.4 1244.6 L1495.1 1244.4 L1502.8 1245.3 L1510.5 1246.5 L1518.2 1247.2 L1525.9 1247.7 L1533.5 1247.9 L1541.2 1248.1 L1548.9 1248.6 L1556.6 1249.0 L1564.3 1248.3 L1572.0 1247.7 L1579.7 1248.0 L1587.3 1248.5 L1595.0 1248.8 L1602.7 1249.1 L1610.4 1249.3 L1618.1 1249.7 L1625.8 1250.1 L1633.4 1250.7 L1641.1 1251.8 L1648.8 1252.7 L1656.5 1253.0 L1664.2 1253.1 L1671.9 1252.9 L1679.6 1252.7 L1687.2 1252.8 L1694.9 1253.1 L1702.6 1253.4 L1710.3 1253.7 L1718.0 1253.9 L1725.7 1254.1 L1733.4 1253.7 L1741.0 1253.1 L1748.7 1252.4 L1756.4 1251.7"/>
<path class="cv" stroke="#ffff00" d="M188.7 1391.3 L196.4 1395.7 L204.0 1400.7 L211.7 1407.3 L219.4 1412.6 L227.1 1414.8 L234.8 1416.4 L242.5 1417.7 L250.2 1418.8 L257.8 1419.8 L265.5 1420.7 L273.2 1421.5 L280.9 1422.5 L288.6 1423.7 L296.3 1425.1 L303.9 1426.4 L311.6 1427.5 L319.3 1428.3 L327.0 1429.0 L334.7 1429.7 L342.4 1430.3 L350.1 1430.9 L357.7 1431.5 L365.4 1432.0 L373.1 1432.5 L380.8 1433.0 L388.5 1433.4 L396.2 1433.9 L403.9 1434.3 L411.5 1434.8 L419.2 1435.1 L426.9 1435.5 L434.6 1435.8 L442.3 1436.1 L450.0 1436.4 L457.6 1436.6 L465.3 1436.7 L473.0 1436.7 L480.7 1436.7 L488.4 1436.7 L496.1 1436.7 L503.8 1436.7 L511.4 1436.7 L519.1 1436.7 L526.8 1436.7 L534.5 1436.7 L542.2 1436.7 L549.9 1436.7 L557.5 1436.7 L565.2 1436.8 L572.9 1436.9 L580.6 1437.1 L588.3 1437.3 L596.0 1437.4 L603.7 1437.5 L611.3 1437.7 L619.0 1437.8 L626.7 1437.9 L634.4 1438.0 L642.1 1438.1 L649.8 1438.2 L657.5 1438.3 L665.1 1438.4 L672.8 1438.6 L680.5 1438.7 L688.2 1438.8 L695.9 1438.9 L703.6 1439.0 L711.2 1439.1 L718.9 1439.2 L726.6 1439.3 L734.3 1439.4 L742.0 1439.5 L749.7 1439.6 L757.4 1439.7 L765.0 1439.8 L772.7 1439.8 L780.4 1439.9 L788.1 1440.0 L795.8 1440.1 L803.5 1440.2 L811.2 1440.4 L818.8 1440.5 L826.5 1440.7 L834.2 1440.8 L841.9 1440.8 L849.6 1440.8 L857.3 1440.8 L865.0 1440.8 L872.6 1440.8 L880.3 1440.9 L888.0 1440.9 L895.7 1440.9 L903.4 1440.9 L911.1 1440.9 L918.7 1440.9 L926.4 1440.9 L934.1 1441.0 L941.8 1441.1 L949.5 1441.2 L957.2 1441.3 L964.9 1441.4 L972.5 1441.5 L980.2 1441.6 L987.9 1441.7 L995.6 1441.7 L1003.3 1441.8 L1011.0 1441.8 L1018.6 1441.9 L1026.3 1441.9 L1034.0 1442.0 L1041.7 1442.1 L1049.4 1442.2 L1057.1 1442.3 L1064.8 1442.4 L1072.4 1442.5 L1080.1 1442.6 L1087.8 1442.7 L1095.5 1442.8 L1103.2 1442.9 L1110.9 1443.0 L1118.6 1443.0 L1126.2 1442.9 L1133.9 1442.9 L1141.6 1442.8 L1149.3 1442.6 L1157.0 1442.4 L1164.7 1442.1 L1172.3 1441.9 L1180.0 1441.6 L1187.7 1441.4 L1195.4 1441.1 L1203.1 1440.8 L1210.8 1440.4 L1218.5 1440.0 L1226.1 1439.6 L1233.8 1439.1 L1241.5 1438.6 L1249.2 1438.0 L1256.9 1437.4 L1264.6 1436.7 L1272.3 1435.9 L1279.9 1435.0 L1287.6 1434.0 L1295.3 1433.0 L1303.0 1432.1 L1310.7 1431.1 L1318.4 1430.2 L1326.0 1429.4 L1333.7 1428.7 L1341.4 1428.0 L1349.1 1427.4 L1356.8 1427.0 L1364.5 1426.6 L1372.2 1426.3 L1379.8 1426.0 L1387.5 1425.7 L1395.2 1425.3 L1402.9 1424.8 L1410.6 1424.3 L1418.3 1423.7 L1426.0 1422.7 L1433.6 1421.7 L1441.3 1420.7 L1449.0 1419.6 L1456.7 1417.8 L1464.4 1416.6 L1472.1 1416.6 L1479.8 1416.6 L1487.4 1417.4 L1495.1 1418.6 L1502.8 1419.7 L1510.5 1420.6 L1518.2 1421.3 L1525.9 1421.7 L1533.5 1421.7 L1541.2 1421.7 L1548.9 1421.3 L1556.6 1420.6 L1564.3 1420.0 L1572.0 1419.6 L1579.7 1419.6 L1587.3 1419.6 L1595.0 1419.6 L1602.7 1419.6 L1610.4 1419.4 L1618.1 1419.0 L1625.8 1418.9 L1633.4 1418.6 L1641.1 1418.2 L1648.8 1417.6 L1656.5 1417.0 L1664.2 1416.2 L1671.9 1415.3 L1679.6 1414.6 L1687.2 1414.3 L1694.9 1414.2 L1702.6 1414.5 L1710.3 1415.0 L1718.0 1415.3 L1725.7 1415.6 L1733.4 1415.9 L1741.0 1416.2 L1748.7 1416.5 L1756.4 1416.6"/>
<path d="M189.2 927.4V1456.9M204.5 927.4V1456.9M219.9 927.4V1456.9M235.3 927.4V1456.9M250.7 927.4V1456.9M266.0 927.4V1456.9M281.4 927.4V1456.9M296.8 927.4V1456.9M312.1 927.4V1456.9M327.5 927.4V1456.9M342.9 927.4V1456.9M358.2 927.4V1456.9M373.6 927.4V1456.9M389.0 927.4V1456.9M404.4 927.4V1456.9M419.7 927.4V1456.9M435.1 927.4V1456.9M450.5 927.4V1456.9M481.2 927.4V1456.9M496.6 927.4V1456.9M511.9 927.4V1456.9M527.3 927.4V1456.9M542.7 927.4V1456.9M558.0 927.4V1456.9M573.4 927.4V1456.9M588.8 927.4V1456.9M604.2 927.4V1456.9M634.9 927.4V1456.9M665.6 927.4V1456.9M696.4 927.4V1456.9M727.1 927.4V1456.9M757.9 927.4V1456.9M788.6 927.4V1456.9M819.3 927.4V1456.9M850.1 927.4V1456.9M880.8 927.4V1456.9M911.6 927.4V1456.9M942.3 927.4V1456.9M973.0 927.4V1456.9M1003.8 927.4V1456.9M1034.5 927.4V1456.9M1065.3 927.4V1456.9M1096.0 927.4V1456.9M1142.1 927.4V1456.9M1172.8 927.4V1456.9M1188.2 927.4V1456.9M1203.6 927.4V1456.9M1219.0 927.4V1456.9M1234.3 927.4V1456.9M1249.7 927.4V1456.9M1265.1 927.4V1456.9M1280.4 927.4V1456.9M1295.8 927.4V1456.9M1311.2 927.4V1456.9M1326.5 927.4V1456.9M1341.9 927.4V1456.9M1357.3 927.4V1456.9M1372.7 927.4V1456.9M1388.0 927.4V1456.9M1418.8 927.4V1456.9M1449.5 927.4V1456.9M1464.9 927.4V1456.9M1480.2 927.4V1456.9M1511.0 927.4V1456.9M1572.5 927.4V1456.9M1649.3 927.4V1456.9M1695.4 927.4V1456.9M1741.5 927.4V1456.9" stroke="#0000ff" stroke-opacity="0.22" stroke-width="7" fill="none"/>
<path d="M189.2 927.4V1456.9M204.5 927.4V1456.9M219.9 927.4V1456.9M235.3 927.4V1456.9M250.7 927.4V1456.9M266.0 927.4V1456.9M281.4 927.4V1456.9M296.8 927.4V1456.9M312.1 927.4V1456.9M327.5 927.4V1456.9M342.9 927.4V1456.9M358.2 927.4V1456.9M373.6 927.4V1456.9M389.0 927.4V1456.9M404.4 927.4V1456.9M419.7 927.4V1456.9M435.1 927.4V1456.9M450.5 927.4V1456.9M481.2 927.4V1456.9M496.6 927.4V1456.9M511.9 927.4V1456.9M527.3 927.4V1456.9M542.7 927.4V1456.9M558.0 927.4V1456.9M573.4 927.4V1456.9M588.8 927.4V1456.9M604.2 927.4V1456.9M634.9 927.4V1456.9M665.6 927.4V1456.9M696.4 927.4V1456.9M727.1 927.4V1456.9M757.9 927.4V1456.9M788.6 927.4V1456.9M819.3 927.4V1456.9M850.1 927.4V1456.9M880.8 927.4V1456.9M911.6 927.4V1456.9M942.3 927.4V1456.9M973.0 927.4V1456.9M1003.8 927.4V1456.9M1034.5 927.4V1456.9M1065.3 927.4V1456.9M1096.0 927.4V1456.9M1142.1 927.4V1456.9M1172.8 927.4V1456.9M1188.2 927.4V1456.9M1203.6 927.4V1456.9M1219.0 927.4V1456.9M1234.3 927.4V1456.9M1249.7 927.4V1456.9M1265.1 927.4V1456.9M1280.4 927.4V1456.9M1295.8 927.4V1456.9M1311.2 927.4V1456.9M1326.5 927.4V1456.9M1341.9 927.4V1456.9M1357.3 927.4V1456.9M1372.7 927.4V1456.9M1388.0 927.4V1456.9M1418.8 927.4V1456.9M1449.5 927.4V1456.9M1464.9 927.4V1456.9M1480.2 927.4V1456.9M1511.0 927.4V1456.9M1572.5 927.4V1456.9M1649.3 927.4V1456.9M1695.4 927.4V1456.9M1741.5 927.4V1456.9" stroke="#0000ff" stroke-width="4.5" fill="none"/>
</g>
<text class="t" transform="translate(174.5 1516.2) scale(1 1.07)" text-anchor="middle">0</text>
<text class="t" transform="translate(326.4 1516.2) scale(1 1.07)" text-anchor="middle">10</text>
<text class="t" transform="translate(481.0 1516.2) scale(1 1.07)" text-anchor="middle">20</text>
<text class="t" transform="translate(634.5 1516.2) scale(1 1.07)" text-anchor="middle">30</text>
<text class="t" transform="translate(788.5 1516.2) scale(1 1.07)" text-anchor="middle">40</text>
<text class="t" transform="translate(942.6 1516.2) scale(1 1.07)" text-anchor="middle">50</text>
<text class="t" transform="translate(1094.8 1516.2) scale(1 1.07)" text-anchor="middle">60</text>
<text class="t" transform="translate(1248.6 1516.2) scale(1 1.07)" text-anchor="middle">70</text>
<text class="t" transform="translate(1402.6 1516.2) scale(1 1.07)" text-anchor="middle">80</text>
<text class="t" transform="translate(1556.7 1516.2) scale(1 1.07)" text-anchor="middle">90</text>
<text class="t" transform="translate(1710.7 1516.2) scale(1 1.07)" text-anchor="middle">100</text>
<text class="t" transform="translate(158.6 1473.7) scale(1 1.07)" text-anchor="end">0</text>
<text class="t" transform="translate(158.6 1368.3) scale(1 1.07)" text-anchor="end">0.2</text>
<text class="t" transform="translate(158.6 1261.0) scale(1 1.07)" text-anchor="end">0.4</text>
<text class="t" transform="translate(158.6 1156.5) scale(1 1.07)" text-anchor="end">0.6</text>
<text class="t" transform="translate(158.6 1049.1) scale(1 1.07)" text-anchor="end">0.8</text>
<text class="t" transform="translate(158.6 943.8) scale(1 1.07)" text-anchor="end">1</text>
<text class="s" x="964" y="1582.9" text-anchor="middle">Band Index</text>
<text class="s" transform="translate(75.3 1190.4) rotate(-90)" text-anchor="middle" style="font-size:59px;letter-spacing:0.35px">Spectral Value</text>
<text class="c" x="844" y="1707.8" font-size="85">(</text><text class="c" x="871.5" y="1707.8" font-size="89" font-weight="bold">b</text><text class="c" x="922" y="1707.8" font-size="85">)</text>
</svg></body></html>
